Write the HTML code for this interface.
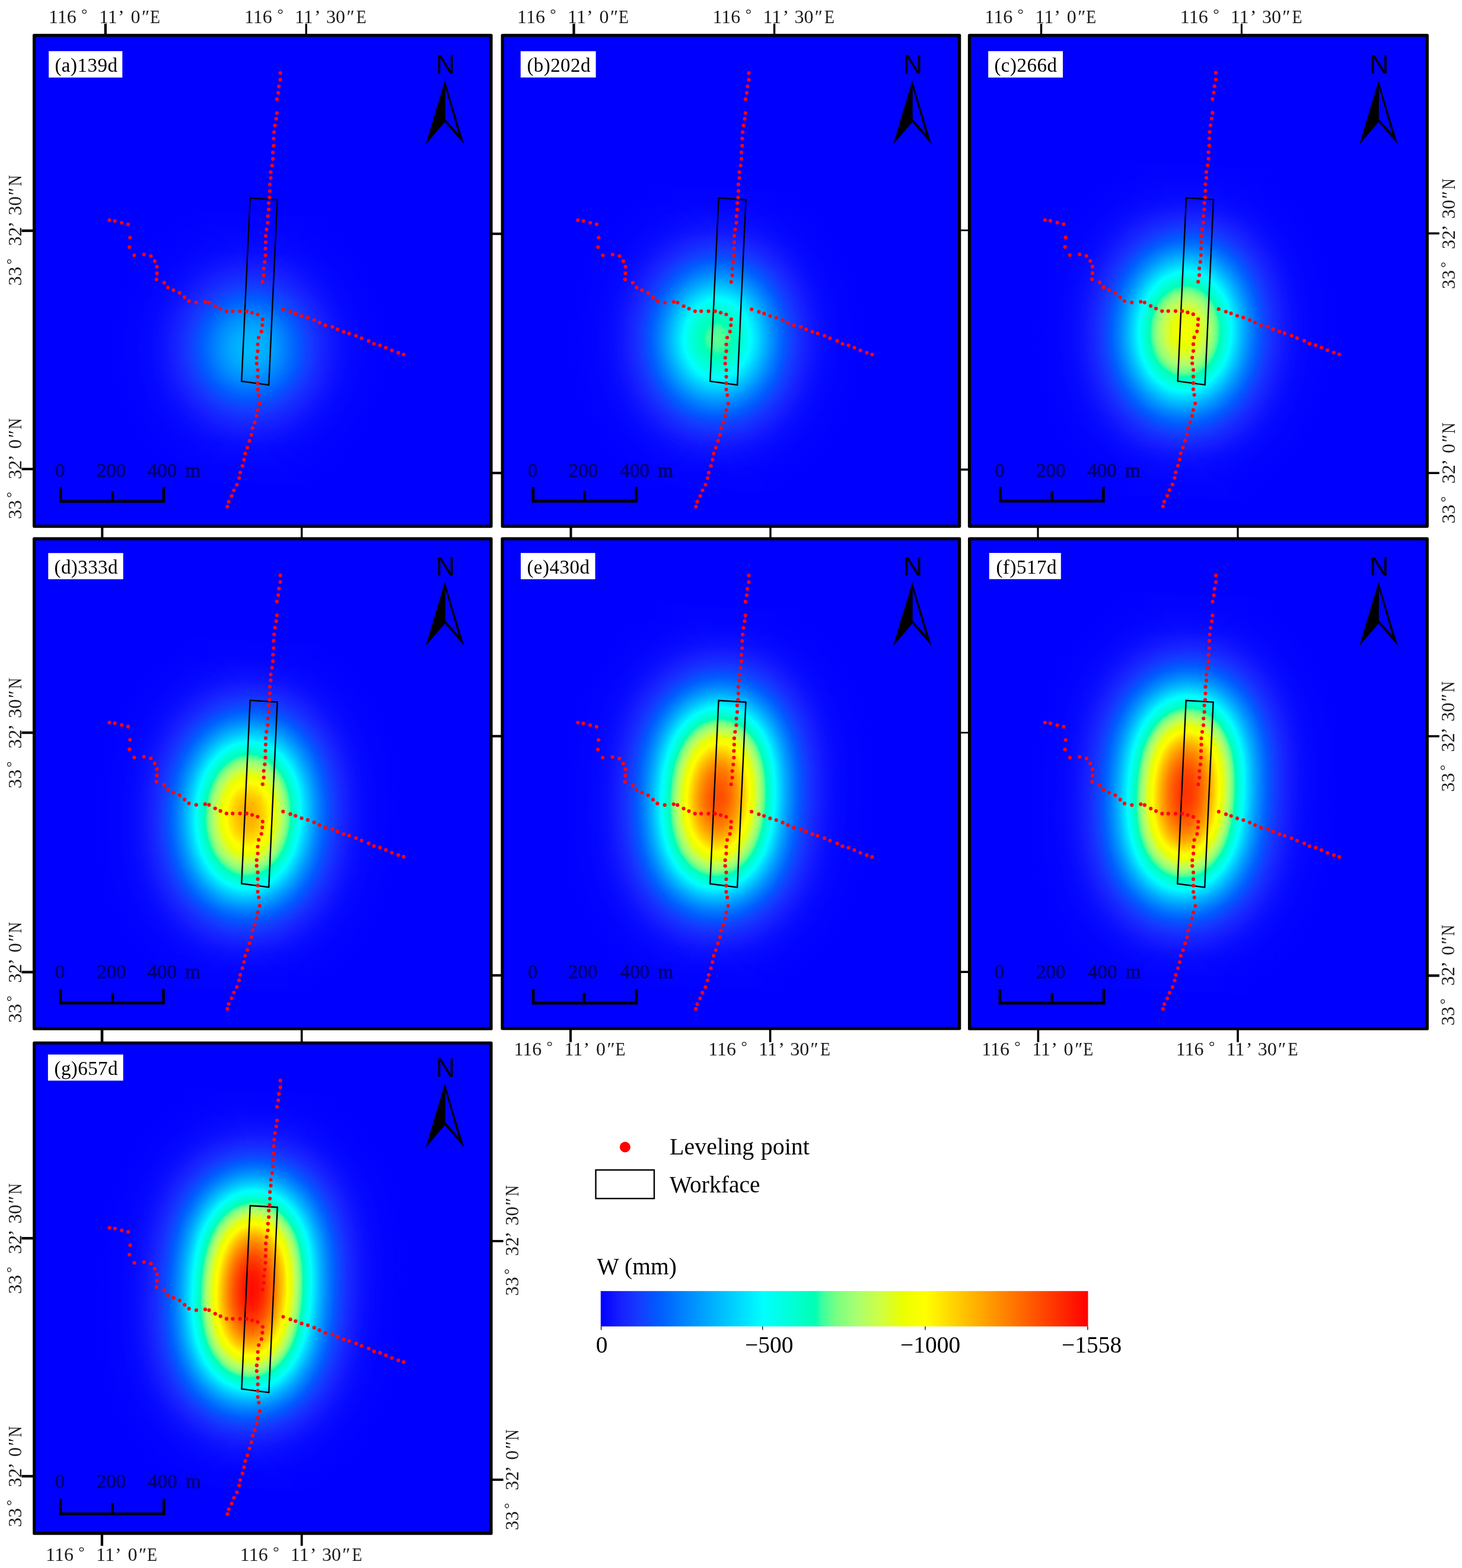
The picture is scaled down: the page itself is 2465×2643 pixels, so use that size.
<!DOCTYPE html>
<html lang="en"><head><meta charset="utf-8"><title>Subsidence maps</title><style>
html,body{margin:0;padding:0;background:#fff}
svg{display:block}
text{font-family:"Liberation Serif",serif;fill:#000}
.lb{font-size:33px}
.nn{font-family:"Liberation Sans",sans-serif;font-size:44.5px;text-anchor:middle}
.sc text{font-size:33px;fill:#00006e;stroke:#00006e;stroke-width:.7px}
.ax{font-size:32px;fill:#1a1a1a}
.lg{font-size:39.5px}
</style></head><body>
<svg width="2465" height="2643" viewBox="0 0 2465 2643">
<defs>
<clipPath id="cpa"><rect x="57.6" y="59.6" width="770.4" height="827.5"/></clipPath>
<linearGradient id="gxa" gradientUnits="userSpaceOnUse" x1="-340" y1="0" x2="340" y2="0"><stop offset="0" stop-opacity="1"/><stop offset="0.0147" stop-opacity="1"/><stop offset="0.0294" stop-opacity="1"/><stop offset="0.0441" stop-opacity="1"/><stop offset="0.0588" stop-opacity="0.9999"/><stop offset="0.0735" stop-opacity="0.9999"/><stop offset="0.0882" stop-opacity="0.9998"/><stop offset="0.1029" stop-opacity="0.9996"/><stop offset="0.1176" stop-opacity="0.9994"/><stop offset="0.1324" stop-opacity="0.9989"/><stop offset="0.1471" stop-opacity="0.9981"/><stop offset="0.1618" stop-opacity="0.9968"/><stop offset="0.1765" stop-opacity="0.9948"/><stop offset="0.1912" stop-opacity="0.9917"/><stop offset="0.2059" stop-opacity="0.9871"/><stop offset="0.2206" stop-opacity="0.9802"/><stop offset="0.2353" stop-opacity="0.9704"/><stop offset="0.25" stop-opacity="0.9567"/><stop offset="0.2647" stop-opacity="0.938"/><stop offset="0.2794" stop-opacity="0.9132"/><stop offset="0.2941" stop-opacity="0.881"/><stop offset="0.3088" stop-opacity="0.8405"/><stop offset="0.3235" stop-opacity="0.7907"/><stop offset="0.3382" stop-opacity="0.7312"/><stop offset="0.3529" stop-opacity="0.6624"/><stop offset="0.3676" stop-opacity="0.585"/><stop offset="0.3824" stop-opacity="0.5008"/><stop offset="0.3971" stop-opacity="0.4125"/><stop offset="0.4118" stop-opacity="0.3235"/><stop offset="0.4265" stop-opacity="0.2377"/><stop offset="0.4412" stop-opacity="0.1594"/><stop offset="0.4559" stop-opacity="0.0931"/><stop offset="0.4706" stop-opacity="0.0425"/><stop offset="0.4853" stop-opacity="0.0108"/><stop offset="0.5" stop-opacity="0"/><stop offset="0.5147" stop-opacity="0.0108"/><stop offset="0.5294" stop-opacity="0.0425"/><stop offset="0.5441" stop-opacity="0.0931"/><stop offset="0.5588" stop-opacity="0.1594"/><stop offset="0.5735" stop-opacity="0.2377"/><stop offset="0.5882" stop-opacity="0.3235"/><stop offset="0.6029" stop-opacity="0.4125"/><stop offset="0.6176" stop-opacity="0.5008"/><stop offset="0.6324" stop-opacity="0.585"/><stop offset="0.6471" stop-opacity="0.6624"/><stop offset="0.6618" stop-opacity="0.7312"/><stop offset="0.6765" stop-opacity="0.7907"/><stop offset="0.6912" stop-opacity="0.8405"/><stop offset="0.7059" stop-opacity="0.881"/><stop offset="0.7206" stop-opacity="0.9132"/><stop offset="0.7353" stop-opacity="0.938"/><stop offset="0.75" stop-opacity="0.9567"/><stop offset="0.7647" stop-opacity="0.9704"/><stop offset="0.7794" stop-opacity="0.9802"/><stop offset="0.7941" stop-opacity="0.9871"/><stop offset="0.8088" stop-opacity="0.9917"/><stop offset="0.8235" stop-opacity="0.9948"/><stop offset="0.8382" stop-opacity="0.9968"/><stop offset="0.8529" stop-opacity="0.9981"/><stop offset="0.8676" stop-opacity="0.9989"/><stop offset="0.8824" stop-opacity="0.9994"/><stop offset="0.8971" stop-opacity="0.9996"/><stop offset="0.9118" stop-opacity="0.9998"/><stop offset="0.9265" stop-opacity="0.9999"/><stop offset="0.9412" stop-opacity="0.9999"/><stop offset="0.9559" stop-opacity="1"/><stop offset="0.9706" stop-opacity="1"/><stop offset="0.9853" stop-opacity="1"/><stop offset="1" stop-opacity="1"/></linearGradient>
<linearGradient id="gya" gradientUnits="userSpaceOnUse" x1="0" y1="-460" x2="0" y2="460"><stop offset="0" stop-color="#000000"/><stop offset="0.0147" stop-color="#000000"/><stop offset="0.0294" stop-color="#000000"/><stop offset="0.0441" stop-color="#000000"/><stop offset="0.0588" stop-color="#000000"/><stop offset="0.0735" stop-color="#000000"/><stop offset="0.0882" stop-color="#000000"/><stop offset="0.1029" stop-color="#000000"/><stop offset="0.1176" stop-color="#000000"/><stop offset="0.1324" stop-color="#000000"/><stop offset="0.1471" stop-color="#000000"/><stop offset="0.1618" stop-color="#000000"/><stop offset="0.1765" stop-color="#000000"/><stop offset="0.1912" stop-color="#000000"/><stop offset="0.2059" stop-color="#000000"/><stop offset="0.2206" stop-color="#000000"/><stop offset="0.2353" stop-color="#000000"/><stop offset="0.25" stop-color="#000000"/><stop offset="0.2647" stop-color="#010101"/><stop offset="0.2794" stop-color="#010101"/><stop offset="0.2941" stop-color="#020202"/><stop offset="0.3088" stop-color="#030303"/><stop offset="0.3235" stop-color="#040404"/><stop offset="0.3382" stop-color="#070707"/><stop offset="0.3529" stop-color="#0a0a0a"/><stop offset="0.3676" stop-color="#0e0e0e"/><stop offset="0.3824" stop-color="#131313"/><stop offset="0.3971" stop-color="#191919"/><stop offset="0.4118" stop-color="#202020"/><stop offset="0.4265" stop-color="#272727"/><stop offset="0.4412" stop-color="#2f2f2f"/><stop offset="0.4559" stop-color="#353535"/><stop offset="0.4706" stop-color="#3a3a3a"/><stop offset="0.4853" stop-color="#3d3d3d"/><stop offset="0.5" stop-color="#3e3e3e"/><stop offset="0.5147" stop-color="#3d3d3d"/><stop offset="0.5294" stop-color="#3a3a3a"/><stop offset="0.5441" stop-color="#353535"/><stop offset="0.5588" stop-color="#2f2f2f"/><stop offset="0.5735" stop-color="#272727"/><stop offset="0.5882" stop-color="#202020"/><stop offset="0.6029" stop-color="#191919"/><stop offset="0.6176" stop-color="#131313"/><stop offset="0.6324" stop-color="#0e0e0e"/><stop offset="0.6471" stop-color="#0a0a0a"/><stop offset="0.6618" stop-color="#070707"/><stop offset="0.6765" stop-color="#040404"/><stop offset="0.6912" stop-color="#030303"/><stop offset="0.7059" stop-color="#020202"/><stop offset="0.7206" stop-color="#010101"/><stop offset="0.7353" stop-color="#010101"/><stop offset="0.75" stop-color="#000000"/><stop offset="0.7647" stop-color="#000000"/><stop offset="0.7794" stop-color="#000000"/><stop offset="0.7941" stop-color="#000000"/><stop offset="0.8088" stop-color="#000000"/><stop offset="0.8235" stop-color="#000000"/><stop offset="0.8382" stop-color="#000000"/><stop offset="0.8529" stop-color="#000000"/><stop offset="0.8676" stop-color="#000000"/><stop offset="0.8824" stop-color="#000000"/><stop offset="0.8971" stop-color="#000000"/><stop offset="0.9118" stop-color="#000000"/><stop offset="0.9265" stop-color="#000000"/><stop offset="0.9412" stop-color="#000000"/><stop offset="0.9559" stop-color="#000000"/><stop offset="0.9706" stop-color="#000000"/><stop offset="0.9853" stop-color="#000000"/><stop offset="1" stop-color="#000000"/></linearGradient>
<filter id="cma" filterUnits="userSpaceOnUse" x="55" y="57" width="775.6" height="832.7" color-interpolation-filters="sRGB"><feComponentTransfer><feFuncR type="table" tableValues="0 0.008 0.017 0.025 0.034 0.042 0.051 0.059 0.068 0.076 0.085 0.086 0.085 0.084 0.083 0.083 0.082 0.081 0.08 0.08 0.079 0.074 0.066 0.058 0.051 0.043 0.035 0.028 0.02 0.012 0.005 0 0 0 0 0 0 0 0 0 0 0 0 0 0 0 0 0 0 0 0 0 0 0 0 0 0 0 0 0 0 0 0 0 0 0 0 0 0 0 0 0 0 0 0 0 0 0 0 0 0 0 0 0 0 0 0 0 0 0 0 0 0 0 0 0 0 0 0 0 0 0 0 0 0 0 0 0 0 0 0 0 0 0.049 0.111 0.172 0.234 0.267 0.3 0.333 0.366 0.399 0.432 0.465 0.485 0.503 0.521 0.539 0.556 0.574 0.592 0.61 0.627 0.645 0.658 0.671 0.683 0.696 0.708 0.721 0.734 0.746 0.759 0.771 0.784 0.796 0.808 0.817 0.826 0.836 0.845 0.855 0.864 0.874 0.883 0.892 0.902 0.911 0.921 0.927 0.934 0.941 0.947 0.954 0.96 0.967 0.974 0.98 0.987 0.993 1 1 1 1 1 1 1 1 1 1 1 1 1 1 1 1 1 1 1 1 1 1 1 1 1 1 1 1 1 1 1 1 1 1 1 1 1 1 1 1 1 1 1 1 1 1 1 1 1 1 1 1 1 1 1 1 1 1 1 1 1 1 1 1 1 1 1 1 1 1 1 1 1 1 1 1 1 1 1 1 1 1 1 1 1 1"/><feFuncG type="table" tableValues="0 0.012 0.024 0.036 0.048 0.06 0.072 0.083 0.095 0.107 0.119 0.131 0.142 0.154 0.165 0.177 0.188 0.2 0.212 0.223 0.235 0.246 0.258 0.27 0.282 0.294 0.306 0.318 0.33 0.342 0.354 0.365 0.377 0.389 0.401 0.412 0.424 0.436 0.448 0.46 0.471 0.483 0.495 0.507 0.518 0.53 0.542 0.554 0.565 0.577 0.589 0.601 0.612 0.624 0.636 0.648 0.659 0.671 0.683 0.695 0.706 0.718 0.73 0.742 0.753 0.765 0.777 0.789 0.8 0.812 0.824 0.836 0.847 0.859 0.871 0.883 0.894 0.906 0.918 0.93 0.941 0.953 0.965 0.977 0.988 1 1 1 1 1 1 1 1 1 1 1 1 1 1 1 1 1 1 1 1 1 1 1 1 1 1 1 1 1 1 1 1 1 1 1 1 1 1 1 1 1 1 1 1 1 1 1 1 1 1 1 1 1 1 1 1 1 1 1 1 1 1 1 1 1 1 1 1 1 1 1 1 1 1 1 1 1 1 1 1 1 1 1 1 1 1 0.988 0.977 0.965 0.953 0.941 0.93 0.918 0.906 0.894 0.882 0.871 0.859 0.847 0.835 0.824 0.812 0.8 0.788 0.777 0.765 0.753 0.741 0.729 0.718 0.706 0.694 0.682 0.671 0.659 0.647 0.635 0.624 0.612 0.6 0.588 0.577 0.565 0.553 0.541 0.529 0.518 0.506 0.494 0.482 0.471 0.459 0.447 0.435 0.424 0.412 0.4 0.388 0.377 0.365 0.353 0.341 0.329 0.318 0.306 0.294 0.282 0.271 0.259 0.247 0.235 0.224 0.212 0.2 0.188 0.176 0.165 0.153 0.141 0.129 0.118 0.106 0.094 0.082 0.071 0.059 0.047 0.035 0.024 0.012 0"/><feFuncB type="table" tableValues="1 1 1 1 1 1 1 1 1 1 1 1 1 1 1 1 1 1 1 1 1 1 1 1 1 1 1 1 1 1 1 1 1 1 1 1 1 1 1 1 1 1 1 1 1 1 1 1 1 1 1 1 1 1 1 1 1 1 1 1 1 1 1 1 1 1 1 1 1 1 1 1 1 1 1 1 1 1 1 1 1 1 1 1 1 1 0.989 0.978 0.967 0.957 0.946 0.935 0.924 0.913 0.903 0.892 0.881 0.87 0.859 0.849 0.838 0.827 0.816 0.805 0.795 0.784 0.773 0.762 0.751 0.74 0.73 0.719 0.708 0.689 0.669 0.648 0.628 0.611 0.595 0.578 0.562 0.545 0.529 0.513 0.505 0.499 0.493 0.487 0.481 0.475 0.469 0.463 0.458 0.452 0.438 0.424 0.41 0.396 0.382 0.368 0.354 0.34 0.325 0.311 0.297 0.283 0.266 0.244 0.222 0.2 0.178 0.156 0.134 0.112 0.09 0.068 0.046 0.024 0.002 0 0 0 0 0 0 0 0 0 0 0 0 0 0 0 0 0 0 0 0 0 0 0 0 0 0 0 0 0 0 0 0 0 0 0 0 0 0 0 0 0 0 0 0 0 0 0 0 0 0 0 0 0 0 0 0 0 0 0 0 0 0 0 0 0 0 0 0 0 0 0 0 0 0 0 0 0 0 0 0 0 0 0 0 0 0 0 0 0 0 0 0 0 0 0 0 0"/></feComponentTransfer></filter>
<clipPath id="cpb"><rect x="847.2" y="59.6" width="770.5" height="827.5"/></clipPath>
<linearGradient id="gxb" gradientUnits="userSpaceOnUse" x1="-340" y1="0" x2="340" y2="0"><stop offset="0" stop-opacity="1"/><stop offset="0.0147" stop-opacity="1"/><stop offset="0.0294" stop-opacity="1"/><stop offset="0.0441" stop-opacity="1"/><stop offset="0.0588" stop-opacity="0.9999"/><stop offset="0.0735" stop-opacity="0.9999"/><stop offset="0.0882" stop-opacity="0.9998"/><stop offset="0.1029" stop-opacity="0.9996"/><stop offset="0.1176" stop-opacity="0.9994"/><stop offset="0.1324" stop-opacity="0.9989"/><stop offset="0.1471" stop-opacity="0.9981"/><stop offset="0.1618" stop-opacity="0.9968"/><stop offset="0.1765" stop-opacity="0.9948"/><stop offset="0.1912" stop-opacity="0.9917"/><stop offset="0.2059" stop-opacity="0.9871"/><stop offset="0.2206" stop-opacity="0.9802"/><stop offset="0.2353" stop-opacity="0.9704"/><stop offset="0.25" stop-opacity="0.9567"/><stop offset="0.2647" stop-opacity="0.938"/><stop offset="0.2794" stop-opacity="0.9132"/><stop offset="0.2941" stop-opacity="0.881"/><stop offset="0.3088" stop-opacity="0.8405"/><stop offset="0.3235" stop-opacity="0.7907"/><stop offset="0.3382" stop-opacity="0.7312"/><stop offset="0.3529" stop-opacity="0.6624"/><stop offset="0.3676" stop-opacity="0.585"/><stop offset="0.3824" stop-opacity="0.5008"/><stop offset="0.3971" stop-opacity="0.4125"/><stop offset="0.4118" stop-opacity="0.3235"/><stop offset="0.4265" stop-opacity="0.2377"/><stop offset="0.4412" stop-opacity="0.1594"/><stop offset="0.4559" stop-opacity="0.0931"/><stop offset="0.4706" stop-opacity="0.0425"/><stop offset="0.4853" stop-opacity="0.0108"/><stop offset="0.5" stop-opacity="0"/><stop offset="0.5147" stop-opacity="0.0108"/><stop offset="0.5294" stop-opacity="0.0425"/><stop offset="0.5441" stop-opacity="0.0931"/><stop offset="0.5588" stop-opacity="0.1594"/><stop offset="0.5735" stop-opacity="0.2377"/><stop offset="0.5882" stop-opacity="0.3235"/><stop offset="0.6029" stop-opacity="0.4125"/><stop offset="0.6176" stop-opacity="0.5008"/><stop offset="0.6324" stop-opacity="0.585"/><stop offset="0.6471" stop-opacity="0.6624"/><stop offset="0.6618" stop-opacity="0.7312"/><stop offset="0.6765" stop-opacity="0.7907"/><stop offset="0.6912" stop-opacity="0.8405"/><stop offset="0.7059" stop-opacity="0.881"/><stop offset="0.7206" stop-opacity="0.9132"/><stop offset="0.7353" stop-opacity="0.938"/><stop offset="0.75" stop-opacity="0.9567"/><stop offset="0.7647" stop-opacity="0.9704"/><stop offset="0.7794" stop-opacity="0.9802"/><stop offset="0.7941" stop-opacity="0.9871"/><stop offset="0.8088" stop-opacity="0.9917"/><stop offset="0.8235" stop-opacity="0.9948"/><stop offset="0.8382" stop-opacity="0.9968"/><stop offset="0.8529" stop-opacity="0.9981"/><stop offset="0.8676" stop-opacity="0.9989"/><stop offset="0.8824" stop-opacity="0.9994"/><stop offset="0.8971" stop-opacity="0.9996"/><stop offset="0.9118" stop-opacity="0.9998"/><stop offset="0.9265" stop-opacity="0.9999"/><stop offset="0.9412" stop-opacity="0.9999"/><stop offset="0.9559" stop-opacity="1"/><stop offset="0.9706" stop-opacity="1"/><stop offset="0.9853" stop-opacity="1"/><stop offset="1" stop-opacity="1"/></linearGradient>
<linearGradient id="gyb" gradientUnits="userSpaceOnUse" x1="0" y1="-460" x2="0" y2="460"><stop offset="0" stop-color="#000000"/><stop offset="0.0147" stop-color="#000000"/><stop offset="0.0294" stop-color="#000000"/><stop offset="0.0441" stop-color="#000000"/><stop offset="0.0588" stop-color="#000000"/><stop offset="0.0735" stop-color="#000000"/><stop offset="0.0882" stop-color="#000000"/><stop offset="0.1029" stop-color="#000000"/><stop offset="0.1176" stop-color="#000000"/><stop offset="0.1324" stop-color="#000000"/><stop offset="0.1471" stop-color="#000000"/><stop offset="0.1618" stop-color="#000000"/><stop offset="0.1765" stop-color="#000000"/><stop offset="0.1912" stop-color="#000000"/><stop offset="0.2059" stop-color="#000000"/><stop offset="0.2206" stop-color="#000000"/><stop offset="0.2353" stop-color="#010101"/><stop offset="0.25" stop-color="#010101"/><stop offset="0.2647" stop-color="#020202"/><stop offset="0.2794" stop-color="#040404"/><stop offset="0.2941" stop-color="#060606"/><stop offset="0.3088" stop-color="#090909"/><stop offset="0.3235" stop-color="#0e0e0e"/><stop offset="0.3382" stop-color="#141414"/><stop offset="0.3529" stop-color="#1b1b1b"/><stop offset="0.3676" stop-color="#252525"/><stop offset="0.3824" stop-color="#2f2f2f"/><stop offset="0.3971" stop-color="#3b3b3b"/><stop offset="0.4118" stop-color="#474747"/><stop offset="0.4265" stop-color="#545454"/><stop offset="0.4412" stop-color="#5f5f5f"/><stop offset="0.4559" stop-color="#696969"/><stop offset="0.4706" stop-color="#717171"/><stop offset="0.4853" stop-color="#767676"/><stop offset="0.5" stop-color="#787878"/><stop offset="0.5147" stop-color="#767676"/><stop offset="0.5294" stop-color="#717171"/><stop offset="0.5441" stop-color="#696969"/><stop offset="0.5588" stop-color="#5f5f5f"/><stop offset="0.5735" stop-color="#545454"/><stop offset="0.5882" stop-color="#474747"/><stop offset="0.6029" stop-color="#3b3b3b"/><stop offset="0.6176" stop-color="#2f2f2f"/><stop offset="0.6324" stop-color="#252525"/><stop offset="0.6471" stop-color="#1b1b1b"/><stop offset="0.6618" stop-color="#141414"/><stop offset="0.6765" stop-color="#0e0e0e"/><stop offset="0.6912" stop-color="#090909"/><stop offset="0.7059" stop-color="#060606"/><stop offset="0.7206" stop-color="#040404"/><stop offset="0.7353" stop-color="#020202"/><stop offset="0.75" stop-color="#010101"/><stop offset="0.7647" stop-color="#010101"/><stop offset="0.7794" stop-color="#000000"/><stop offset="0.7941" stop-color="#000000"/><stop offset="0.8088" stop-color="#000000"/><stop offset="0.8235" stop-color="#000000"/><stop offset="0.8382" stop-color="#000000"/><stop offset="0.8529" stop-color="#000000"/><stop offset="0.8676" stop-color="#000000"/><stop offset="0.8824" stop-color="#000000"/><stop offset="0.8971" stop-color="#000000"/><stop offset="0.9118" stop-color="#000000"/><stop offset="0.9265" stop-color="#000000"/><stop offset="0.9412" stop-color="#000000"/><stop offset="0.9559" stop-color="#000000"/><stop offset="0.9706" stop-color="#000000"/><stop offset="0.9853" stop-color="#000000"/><stop offset="1" stop-color="#000000"/></linearGradient>
<filter id="cmb" filterUnits="userSpaceOnUse" x="844.6" y="57" width="775.7" height="832.7" color-interpolation-filters="sRGB"><feComponentTransfer><feFuncR type="table" tableValues="0 0.008 0.017 0.025 0.034 0.042 0.051 0.059 0.068 0.076 0.085 0.086 0.085 0.084 0.083 0.083 0.082 0.081 0.08 0.08 0.079 0.074 0.066 0.058 0.051 0.043 0.035 0.028 0.02 0.012 0.005 0 0 0 0 0 0 0 0 0 0 0 0 0 0 0 0 0 0 0 0 0 0 0 0 0 0 0 0 0 0 0 0 0 0 0 0 0 0 0 0 0 0 0 0 0 0 0 0 0 0 0 0 0 0 0 0 0 0 0 0 0 0 0 0 0 0 0 0 0 0 0 0 0 0 0 0 0 0 0 0 0 0 0.049 0.111 0.172 0.234 0.267 0.3 0.333 0.366 0.399 0.432 0.465 0.485 0.503 0.521 0.539 0.556 0.574 0.592 0.61 0.627 0.645 0.658 0.671 0.683 0.696 0.708 0.721 0.734 0.746 0.759 0.771 0.784 0.796 0.808 0.817 0.826 0.836 0.845 0.855 0.864 0.874 0.883 0.892 0.902 0.911 0.921 0.927 0.934 0.941 0.947 0.954 0.96 0.967 0.974 0.98 0.987 0.993 1 1 1 1 1 1 1 1 1 1 1 1 1 1 1 1 1 1 1 1 1 1 1 1 1 1 1 1 1 1 1 1 1 1 1 1 1 1 1 1 1 1 1 1 1 1 1 1 1 1 1 1 1 1 1 1 1 1 1 1 1 1 1 1 1 1 1 1 1 1 1 1 1 1 1 1 1 1 1 1 1 1 1 1 1 1"/><feFuncG type="table" tableValues="0 0.012 0.024 0.036 0.048 0.06 0.072 0.083 0.095 0.107 0.119 0.131 0.142 0.154 0.165 0.177 0.188 0.2 0.212 0.223 0.235 0.246 0.258 0.27 0.282 0.294 0.306 0.318 0.33 0.342 0.354 0.365 0.377 0.389 0.401 0.412 0.424 0.436 0.448 0.46 0.471 0.483 0.495 0.507 0.518 0.53 0.542 0.554 0.565 0.577 0.589 0.601 0.612 0.624 0.636 0.648 0.659 0.671 0.683 0.695 0.706 0.718 0.73 0.742 0.753 0.765 0.777 0.789 0.8 0.812 0.824 0.836 0.847 0.859 0.871 0.883 0.894 0.906 0.918 0.93 0.941 0.953 0.965 0.977 0.988 1 1 1 1 1 1 1 1 1 1 1 1 1 1 1 1 1 1 1 1 1 1 1 1 1 1 1 1 1 1 1 1 1 1 1 1 1 1 1 1 1 1 1 1 1 1 1 1 1 1 1 1 1 1 1 1 1 1 1 1 1 1 1 1 1 1 1 1 1 1 1 1 1 1 1 1 1 1 1 1 1 1 1 1 1 1 0.988 0.977 0.965 0.953 0.941 0.93 0.918 0.906 0.894 0.882 0.871 0.859 0.847 0.835 0.824 0.812 0.8 0.788 0.777 0.765 0.753 0.741 0.729 0.718 0.706 0.694 0.682 0.671 0.659 0.647 0.635 0.624 0.612 0.6 0.588 0.577 0.565 0.553 0.541 0.529 0.518 0.506 0.494 0.482 0.471 0.459 0.447 0.435 0.424 0.412 0.4 0.388 0.377 0.365 0.353 0.341 0.329 0.318 0.306 0.294 0.282 0.271 0.259 0.247 0.235 0.224 0.212 0.2 0.188 0.176 0.165 0.153 0.141 0.129 0.118 0.106 0.094 0.082 0.071 0.059 0.047 0.035 0.024 0.012 0"/><feFuncB type="table" tableValues="1 1 1 1 1 1 1 1 1 1 1 1 1 1 1 1 1 1 1 1 1 1 1 1 1 1 1 1 1 1 1 1 1 1 1 1 1 1 1 1 1 1 1 1 1 1 1 1 1 1 1 1 1 1 1 1 1 1 1 1 1 1 1 1 1 1 1 1 1 1 1 1 1 1 1 1 1 1 1 1 1 1 1 1 1 1 0.989 0.978 0.967 0.957 0.946 0.935 0.924 0.913 0.903 0.892 0.881 0.87 0.859 0.849 0.838 0.827 0.816 0.805 0.795 0.784 0.773 0.762 0.751 0.74 0.73 0.719 0.708 0.689 0.669 0.648 0.628 0.611 0.595 0.578 0.562 0.545 0.529 0.513 0.505 0.499 0.493 0.487 0.481 0.475 0.469 0.463 0.458 0.452 0.438 0.424 0.41 0.396 0.382 0.368 0.354 0.34 0.325 0.311 0.297 0.283 0.266 0.244 0.222 0.2 0.178 0.156 0.134 0.112 0.09 0.068 0.046 0.024 0.002 0 0 0 0 0 0 0 0 0 0 0 0 0 0 0 0 0 0 0 0 0 0 0 0 0 0 0 0 0 0 0 0 0 0 0 0 0 0 0 0 0 0 0 0 0 0 0 0 0 0 0 0 0 0 0 0 0 0 0 0 0 0 0 0 0 0 0 0 0 0 0 0 0 0 0 0 0 0 0 0 0 0 0 0 0 0 0 0 0 0 0 0 0 0 0 0 0"/></feComponentTransfer></filter>
<clipPath id="cpc"><rect x="1634.5" y="59.6" width="771.8" height="827.5"/></clipPath>
<linearGradient id="gxc" gradientUnits="userSpaceOnUse" x1="-340" y1="0" x2="340" y2="0"><stop offset="0" stop-opacity="1"/><stop offset="0.0147" stop-opacity="1"/><stop offset="0.0294" stop-opacity="1"/><stop offset="0.0441" stop-opacity="1"/><stop offset="0.0588" stop-opacity="0.9999"/><stop offset="0.0735" stop-opacity="0.9999"/><stop offset="0.0882" stop-opacity="0.9998"/><stop offset="0.1029" stop-opacity="0.9996"/><stop offset="0.1176" stop-opacity="0.9994"/><stop offset="0.1324" stop-opacity="0.9989"/><stop offset="0.1471" stop-opacity="0.9981"/><stop offset="0.1618" stop-opacity="0.9968"/><stop offset="0.1765" stop-opacity="0.9948"/><stop offset="0.1912" stop-opacity="0.9917"/><stop offset="0.2059" stop-opacity="0.9871"/><stop offset="0.2206" stop-opacity="0.9802"/><stop offset="0.2353" stop-opacity="0.9704"/><stop offset="0.25" stop-opacity="0.9567"/><stop offset="0.2647" stop-opacity="0.938"/><stop offset="0.2794" stop-opacity="0.9132"/><stop offset="0.2941" stop-opacity="0.881"/><stop offset="0.3088" stop-opacity="0.8405"/><stop offset="0.3235" stop-opacity="0.7907"/><stop offset="0.3382" stop-opacity="0.7312"/><stop offset="0.3529" stop-opacity="0.6624"/><stop offset="0.3676" stop-opacity="0.585"/><stop offset="0.3824" stop-opacity="0.5008"/><stop offset="0.3971" stop-opacity="0.4125"/><stop offset="0.4118" stop-opacity="0.3235"/><stop offset="0.4265" stop-opacity="0.2377"/><stop offset="0.4412" stop-opacity="0.1594"/><stop offset="0.4559" stop-opacity="0.0931"/><stop offset="0.4706" stop-opacity="0.0425"/><stop offset="0.4853" stop-opacity="0.0108"/><stop offset="0.5" stop-opacity="0"/><stop offset="0.5147" stop-opacity="0.0108"/><stop offset="0.5294" stop-opacity="0.0425"/><stop offset="0.5441" stop-opacity="0.0931"/><stop offset="0.5588" stop-opacity="0.1594"/><stop offset="0.5735" stop-opacity="0.2377"/><stop offset="0.5882" stop-opacity="0.3235"/><stop offset="0.6029" stop-opacity="0.4125"/><stop offset="0.6176" stop-opacity="0.5008"/><stop offset="0.6324" stop-opacity="0.585"/><stop offset="0.6471" stop-opacity="0.6624"/><stop offset="0.6618" stop-opacity="0.7312"/><stop offset="0.6765" stop-opacity="0.7907"/><stop offset="0.6912" stop-opacity="0.8405"/><stop offset="0.7059" stop-opacity="0.881"/><stop offset="0.7206" stop-opacity="0.9132"/><stop offset="0.7353" stop-opacity="0.938"/><stop offset="0.75" stop-opacity="0.9567"/><stop offset="0.7647" stop-opacity="0.9704"/><stop offset="0.7794" stop-opacity="0.9802"/><stop offset="0.7941" stop-opacity="0.9871"/><stop offset="0.8088" stop-opacity="0.9917"/><stop offset="0.8235" stop-opacity="0.9948"/><stop offset="0.8382" stop-opacity="0.9968"/><stop offset="0.8529" stop-opacity="0.9981"/><stop offset="0.8676" stop-opacity="0.9989"/><stop offset="0.8824" stop-opacity="0.9994"/><stop offset="0.8971" stop-opacity="0.9996"/><stop offset="0.9118" stop-opacity="0.9998"/><stop offset="0.9265" stop-opacity="0.9999"/><stop offset="0.9412" stop-opacity="0.9999"/><stop offset="0.9559" stop-opacity="1"/><stop offset="0.9706" stop-opacity="1"/><stop offset="0.9853" stop-opacity="1"/><stop offset="1" stop-opacity="1"/></linearGradient>
<linearGradient id="gyc" gradientUnits="userSpaceOnUse" x1="0" y1="-460" x2="0" y2="460"><stop offset="0" stop-color="#000000"/><stop offset="0.0147" stop-color="#000000"/><stop offset="0.0294" stop-color="#000000"/><stop offset="0.0441" stop-color="#000000"/><stop offset="0.0588" stop-color="#000000"/><stop offset="0.0735" stop-color="#000000"/><stop offset="0.0882" stop-color="#000000"/><stop offset="0.1029" stop-color="#000000"/><stop offset="0.1176" stop-color="#000000"/><stop offset="0.1324" stop-color="#000000"/><stop offset="0.1471" stop-color="#000000"/><stop offset="0.1618" stop-color="#000000"/><stop offset="0.1765" stop-color="#000000"/><stop offset="0.1912" stop-color="#000000"/><stop offset="0.2059" stop-color="#010101"/><stop offset="0.2206" stop-color="#010101"/><stop offset="0.2353" stop-color="#020202"/><stop offset="0.25" stop-color="#030303"/><stop offset="0.2647" stop-color="#050505"/><stop offset="0.2794" stop-color="#080808"/><stop offset="0.2941" stop-color="#0d0d0d"/><stop offset="0.3088" stop-color="#131313"/><stop offset="0.3235" stop-color="#1b1b1b"/><stop offset="0.3382" stop-color="#242424"/><stop offset="0.3529" stop-color="#303030"/><stop offset="0.3676" stop-color="#3e3e3e"/><stop offset="0.3824" stop-color="#4c4c4c"/><stop offset="0.3971" stop-color="#5c5c5c"/><stop offset="0.4118" stop-color="#6c6c6c"/><stop offset="0.4265" stop-color="#7b7b7b"/><stop offset="0.4412" stop-color="#898989"/><stop offset="0.4559" stop-color="#959595"/><stop offset="0.4706" stop-color="#9d9d9d"/><stop offset="0.4853" stop-color="#a3a3a3"/><stop offset="0.5" stop-color="#a4a4a4"/><stop offset="0.5147" stop-color="#a3a3a3"/><stop offset="0.5294" stop-color="#9d9d9d"/><stop offset="0.5441" stop-color="#959595"/><stop offset="0.5588" stop-color="#898989"/><stop offset="0.5735" stop-color="#7b7b7b"/><stop offset="0.5882" stop-color="#6c6c6c"/><stop offset="0.6029" stop-color="#5c5c5c"/><stop offset="0.6176" stop-color="#4c4c4c"/><stop offset="0.6324" stop-color="#3e3e3e"/><stop offset="0.6471" stop-color="#303030"/><stop offset="0.6618" stop-color="#242424"/><stop offset="0.6765" stop-color="#1b1b1b"/><stop offset="0.6912" stop-color="#131313"/><stop offset="0.7059" stop-color="#0d0d0d"/><stop offset="0.7206" stop-color="#080808"/><stop offset="0.7353" stop-color="#050505"/><stop offset="0.75" stop-color="#030303"/><stop offset="0.7647" stop-color="#020202"/><stop offset="0.7794" stop-color="#010101"/><stop offset="0.7941" stop-color="#010101"/><stop offset="0.8088" stop-color="#000000"/><stop offset="0.8235" stop-color="#000000"/><stop offset="0.8382" stop-color="#000000"/><stop offset="0.8529" stop-color="#000000"/><stop offset="0.8676" stop-color="#000000"/><stop offset="0.8824" stop-color="#000000"/><stop offset="0.8971" stop-color="#000000"/><stop offset="0.9118" stop-color="#000000"/><stop offset="0.9265" stop-color="#000000"/><stop offset="0.9412" stop-color="#000000"/><stop offset="0.9559" stop-color="#000000"/><stop offset="0.9706" stop-color="#000000"/><stop offset="0.9853" stop-color="#000000"/><stop offset="1" stop-color="#000000"/></linearGradient>
<filter id="cmc" filterUnits="userSpaceOnUse" x="1631.9" y="57" width="777" height="832.7" color-interpolation-filters="sRGB"><feComponentTransfer><feFuncR type="table" tableValues="0 0.008 0.017 0.025 0.034 0.042 0.051 0.059 0.068 0.076 0.085 0.086 0.085 0.084 0.083 0.083 0.082 0.081 0.08 0.08 0.079 0.074 0.066 0.058 0.051 0.043 0.035 0.028 0.02 0.012 0.005 0 0 0 0 0 0 0 0 0 0 0 0 0 0 0 0 0 0 0 0 0 0 0 0 0 0 0 0 0 0 0 0 0 0 0 0 0 0 0 0 0 0 0 0 0 0 0 0 0 0 0 0 0 0 0 0 0 0 0 0 0 0 0 0 0 0 0 0 0 0 0 0 0 0 0 0 0 0 0 0 0 0 0.049 0.111 0.172 0.234 0.267 0.3 0.333 0.366 0.399 0.432 0.465 0.485 0.503 0.521 0.539 0.556 0.574 0.592 0.61 0.627 0.645 0.658 0.671 0.683 0.696 0.708 0.721 0.734 0.746 0.759 0.771 0.784 0.796 0.808 0.817 0.826 0.836 0.845 0.855 0.864 0.874 0.883 0.892 0.902 0.911 0.921 0.927 0.934 0.941 0.947 0.954 0.96 0.967 0.974 0.98 0.987 0.993 1 1 1 1 1 1 1 1 1 1 1 1 1 1 1 1 1 1 1 1 1 1 1 1 1 1 1 1 1 1 1 1 1 1 1 1 1 1 1 1 1 1 1 1 1 1 1 1 1 1 1 1 1 1 1 1 1 1 1 1 1 1 1 1 1 1 1 1 1 1 1 1 1 1 1 1 1 1 1 1 1 1 1 1 1 1"/><feFuncG type="table" tableValues="0 0.012 0.024 0.036 0.048 0.06 0.072 0.083 0.095 0.107 0.119 0.131 0.142 0.154 0.165 0.177 0.188 0.2 0.212 0.223 0.235 0.246 0.258 0.27 0.282 0.294 0.306 0.318 0.33 0.342 0.354 0.365 0.377 0.389 0.401 0.412 0.424 0.436 0.448 0.46 0.471 0.483 0.495 0.507 0.518 0.53 0.542 0.554 0.565 0.577 0.589 0.601 0.612 0.624 0.636 0.648 0.659 0.671 0.683 0.695 0.706 0.718 0.73 0.742 0.753 0.765 0.777 0.789 0.8 0.812 0.824 0.836 0.847 0.859 0.871 0.883 0.894 0.906 0.918 0.93 0.941 0.953 0.965 0.977 0.988 1 1 1 1 1 1 1 1 1 1 1 1 1 1 1 1 1 1 1 1 1 1 1 1 1 1 1 1 1 1 1 1 1 1 1 1 1 1 1 1 1 1 1 1 1 1 1 1 1 1 1 1 1 1 1 1 1 1 1 1 1 1 1 1 1 1 1 1 1 1 1 1 1 1 1 1 1 1 1 1 1 1 1 1 1 1 0.988 0.977 0.965 0.953 0.941 0.93 0.918 0.906 0.894 0.882 0.871 0.859 0.847 0.835 0.824 0.812 0.8 0.788 0.777 0.765 0.753 0.741 0.729 0.718 0.706 0.694 0.682 0.671 0.659 0.647 0.635 0.624 0.612 0.6 0.588 0.577 0.565 0.553 0.541 0.529 0.518 0.506 0.494 0.482 0.471 0.459 0.447 0.435 0.424 0.412 0.4 0.388 0.377 0.365 0.353 0.341 0.329 0.318 0.306 0.294 0.282 0.271 0.259 0.247 0.235 0.224 0.212 0.2 0.188 0.176 0.165 0.153 0.141 0.129 0.118 0.106 0.094 0.082 0.071 0.059 0.047 0.035 0.024 0.012 0"/><feFuncB type="table" tableValues="1 1 1 1 1 1 1 1 1 1 1 1 1 1 1 1 1 1 1 1 1 1 1 1 1 1 1 1 1 1 1 1 1 1 1 1 1 1 1 1 1 1 1 1 1 1 1 1 1 1 1 1 1 1 1 1 1 1 1 1 1 1 1 1 1 1 1 1 1 1 1 1 1 1 1 1 1 1 1 1 1 1 1 1 1 1 0.989 0.978 0.967 0.957 0.946 0.935 0.924 0.913 0.903 0.892 0.881 0.87 0.859 0.849 0.838 0.827 0.816 0.805 0.795 0.784 0.773 0.762 0.751 0.74 0.73 0.719 0.708 0.689 0.669 0.648 0.628 0.611 0.595 0.578 0.562 0.545 0.529 0.513 0.505 0.499 0.493 0.487 0.481 0.475 0.469 0.463 0.458 0.452 0.438 0.424 0.41 0.396 0.382 0.368 0.354 0.34 0.325 0.311 0.297 0.283 0.266 0.244 0.222 0.2 0.178 0.156 0.134 0.112 0.09 0.068 0.046 0.024 0.002 0 0 0 0 0 0 0 0 0 0 0 0 0 0 0 0 0 0 0 0 0 0 0 0 0 0 0 0 0 0 0 0 0 0 0 0 0 0 0 0 0 0 0 0 0 0 0 0 0 0 0 0 0 0 0 0 0 0 0 0 0 0 0 0 0 0 0 0 0 0 0 0 0 0 0 0 0 0 0 0 0 0 0 0 0 0 0 0 0 0 0 0 0 0 0 0 0"/></feComponentTransfer></filter>
<clipPath id="cpd"><rect x="57.6" y="908.2" width="770.4" height="825.7"/></clipPath>
<linearGradient id="gxd" gradientUnits="userSpaceOnUse" x1="-340" y1="0" x2="340" y2="0"><stop offset="0" stop-opacity="1"/><stop offset="0.0147" stop-opacity="1"/><stop offset="0.0294" stop-opacity="1"/><stop offset="0.0441" stop-opacity="1"/><stop offset="0.0588" stop-opacity="0.9999"/><stop offset="0.0735" stop-opacity="0.9999"/><stop offset="0.0882" stop-opacity="0.9998"/><stop offset="0.1029" stop-opacity="0.9996"/><stop offset="0.1176" stop-opacity="0.9994"/><stop offset="0.1324" stop-opacity="0.9989"/><stop offset="0.1471" stop-opacity="0.9981"/><stop offset="0.1618" stop-opacity="0.9968"/><stop offset="0.1765" stop-opacity="0.9948"/><stop offset="0.1912" stop-opacity="0.9917"/><stop offset="0.2059" stop-opacity="0.9871"/><stop offset="0.2206" stop-opacity="0.9802"/><stop offset="0.2353" stop-opacity="0.9704"/><stop offset="0.25" stop-opacity="0.9567"/><stop offset="0.2647" stop-opacity="0.938"/><stop offset="0.2794" stop-opacity="0.9132"/><stop offset="0.2941" stop-opacity="0.881"/><stop offset="0.3088" stop-opacity="0.8405"/><stop offset="0.3235" stop-opacity="0.7907"/><stop offset="0.3382" stop-opacity="0.7312"/><stop offset="0.3529" stop-opacity="0.6624"/><stop offset="0.3676" stop-opacity="0.585"/><stop offset="0.3824" stop-opacity="0.5008"/><stop offset="0.3971" stop-opacity="0.4125"/><stop offset="0.4118" stop-opacity="0.3235"/><stop offset="0.4265" stop-opacity="0.2377"/><stop offset="0.4412" stop-opacity="0.1594"/><stop offset="0.4559" stop-opacity="0.0931"/><stop offset="0.4706" stop-opacity="0.0425"/><stop offset="0.4853" stop-opacity="0.0108"/><stop offset="0.5" stop-opacity="0"/><stop offset="0.5147" stop-opacity="0.0108"/><stop offset="0.5294" stop-opacity="0.0425"/><stop offset="0.5441" stop-opacity="0.0931"/><stop offset="0.5588" stop-opacity="0.1594"/><stop offset="0.5735" stop-opacity="0.2377"/><stop offset="0.5882" stop-opacity="0.3235"/><stop offset="0.6029" stop-opacity="0.4125"/><stop offset="0.6176" stop-opacity="0.5008"/><stop offset="0.6324" stop-opacity="0.585"/><stop offset="0.6471" stop-opacity="0.6624"/><stop offset="0.6618" stop-opacity="0.7312"/><stop offset="0.6765" stop-opacity="0.7907"/><stop offset="0.6912" stop-opacity="0.8405"/><stop offset="0.7059" stop-opacity="0.881"/><stop offset="0.7206" stop-opacity="0.9132"/><stop offset="0.7353" stop-opacity="0.938"/><stop offset="0.75" stop-opacity="0.9567"/><stop offset="0.7647" stop-opacity="0.9704"/><stop offset="0.7794" stop-opacity="0.9802"/><stop offset="0.7941" stop-opacity="0.9871"/><stop offset="0.8088" stop-opacity="0.9917"/><stop offset="0.8235" stop-opacity="0.9948"/><stop offset="0.8382" stop-opacity="0.9968"/><stop offset="0.8529" stop-opacity="0.9981"/><stop offset="0.8676" stop-opacity="0.9989"/><stop offset="0.8824" stop-opacity="0.9994"/><stop offset="0.8971" stop-opacity="0.9996"/><stop offset="0.9118" stop-opacity="0.9998"/><stop offset="0.9265" stop-opacity="0.9999"/><stop offset="0.9412" stop-opacity="0.9999"/><stop offset="0.9559" stop-opacity="1"/><stop offset="0.9706" stop-opacity="1"/><stop offset="0.9853" stop-opacity="1"/><stop offset="1" stop-opacity="1"/></linearGradient>
<linearGradient id="gyd" gradientUnits="userSpaceOnUse" x1="0" y1="-460" x2="0" y2="460"><stop offset="0" stop-color="#000000"/><stop offset="0.0147" stop-color="#000000"/><stop offset="0.0294" stop-color="#000000"/><stop offset="0.0441" stop-color="#000000"/><stop offset="0.0588" stop-color="#000000"/><stop offset="0.0735" stop-color="#000000"/><stop offset="0.0882" stop-color="#000000"/><stop offset="0.1029" stop-color="#000000"/><stop offset="0.1176" stop-color="#000000"/><stop offset="0.1324" stop-color="#000000"/><stop offset="0.1471" stop-color="#000000"/><stop offset="0.1618" stop-color="#000000"/><stop offset="0.1765" stop-color="#000000"/><stop offset="0.1912" stop-color="#010101"/><stop offset="0.2059" stop-color="#010101"/><stop offset="0.2206" stop-color="#020202"/><stop offset="0.2353" stop-color="#040404"/><stop offset="0.25" stop-color="#060606"/><stop offset="0.2647" stop-color="#0a0a0a"/><stop offset="0.2794" stop-color="#0f0f0f"/><stop offset="0.2941" stop-color="#161616"/><stop offset="0.3088" stop-color="#1e1e1e"/><stop offset="0.3235" stop-color="#292929"/><stop offset="0.3382" stop-color="#373737"/><stop offset="0.3529" stop-color="#464646"/><stop offset="0.3676" stop-color="#575757"/><stop offset="0.3824" stop-color="#696969"/><stop offset="0.3971" stop-color="#7b7b7b"/><stop offset="0.4118" stop-color="#8c8c8c"/><stop offset="0.4265" stop-color="#9d9d9d"/><stop offset="0.4412" stop-color="#ababab"/><stop offset="0.4559" stop-color="#b6b6b6"/><stop offset="0.4706" stop-color="#bfbfbf"/><stop offset="0.4853" stop-color="#c4c4c4"/><stop offset="0.5" stop-color="#c6c6c6"/><stop offset="0.5147" stop-color="#c4c4c4"/><stop offset="0.5294" stop-color="#bfbfbf"/><stop offset="0.5441" stop-color="#b6b6b6"/><stop offset="0.5588" stop-color="#ababab"/><stop offset="0.5735" stop-color="#9d9d9d"/><stop offset="0.5882" stop-color="#8c8c8c"/><stop offset="0.6029" stop-color="#7b7b7b"/><stop offset="0.6176" stop-color="#696969"/><stop offset="0.6324" stop-color="#575757"/><stop offset="0.6471" stop-color="#464646"/><stop offset="0.6618" stop-color="#373737"/><stop offset="0.6765" stop-color="#292929"/><stop offset="0.6912" stop-color="#1e1e1e"/><stop offset="0.7059" stop-color="#161616"/><stop offset="0.7206" stop-color="#0f0f0f"/><stop offset="0.7353" stop-color="#0a0a0a"/><stop offset="0.75" stop-color="#060606"/><stop offset="0.7647" stop-color="#040404"/><stop offset="0.7794" stop-color="#020202"/><stop offset="0.7941" stop-color="#010101"/><stop offset="0.8088" stop-color="#010101"/><stop offset="0.8235" stop-color="#000000"/><stop offset="0.8382" stop-color="#000000"/><stop offset="0.8529" stop-color="#000000"/><stop offset="0.8676" stop-color="#000000"/><stop offset="0.8824" stop-color="#000000"/><stop offset="0.8971" stop-color="#000000"/><stop offset="0.9118" stop-color="#000000"/><stop offset="0.9265" stop-color="#000000"/><stop offset="0.9412" stop-color="#000000"/><stop offset="0.9559" stop-color="#000000"/><stop offset="0.9706" stop-color="#000000"/><stop offset="0.9853" stop-color="#000000"/><stop offset="1" stop-color="#000000"/></linearGradient>
<filter id="cmd" filterUnits="userSpaceOnUse" x="55" y="905.6" width="775.6" height="830.9" color-interpolation-filters="sRGB"><feComponentTransfer><feFuncR type="table" tableValues="0 0.008 0.017 0.025 0.034 0.042 0.051 0.059 0.068 0.076 0.085 0.086 0.085 0.084 0.083 0.083 0.082 0.081 0.08 0.08 0.079 0.074 0.066 0.058 0.051 0.043 0.035 0.028 0.02 0.012 0.005 0 0 0 0 0 0 0 0 0 0 0 0 0 0 0 0 0 0 0 0 0 0 0 0 0 0 0 0 0 0 0 0 0 0 0 0 0 0 0 0 0 0 0 0 0 0 0 0 0 0 0 0 0 0 0 0 0 0 0 0 0 0 0 0 0 0 0 0 0 0 0 0 0 0 0 0 0 0 0 0 0 0 0.049 0.111 0.172 0.234 0.267 0.3 0.333 0.366 0.399 0.432 0.465 0.485 0.503 0.521 0.539 0.556 0.574 0.592 0.61 0.627 0.645 0.658 0.671 0.683 0.696 0.708 0.721 0.734 0.746 0.759 0.771 0.784 0.796 0.808 0.817 0.826 0.836 0.845 0.855 0.864 0.874 0.883 0.892 0.902 0.911 0.921 0.927 0.934 0.941 0.947 0.954 0.96 0.967 0.974 0.98 0.987 0.993 1 1 1 1 1 1 1 1 1 1 1 1 1 1 1 1 1 1 1 1 1 1 1 1 1 1 1 1 1 1 1 1 1 1 1 1 1 1 1 1 1 1 1 1 1 1 1 1 1 1 1 1 1 1 1 1 1 1 1 1 1 1 1 1 1 1 1 1 1 1 1 1 1 1 1 1 1 1 1 1 1 1 1 1 1 1"/><feFuncG type="table" tableValues="0 0.012 0.024 0.036 0.048 0.06 0.072 0.083 0.095 0.107 0.119 0.131 0.142 0.154 0.165 0.177 0.188 0.2 0.212 0.223 0.235 0.246 0.258 0.27 0.282 0.294 0.306 0.318 0.33 0.342 0.354 0.365 0.377 0.389 0.401 0.412 0.424 0.436 0.448 0.46 0.471 0.483 0.495 0.507 0.518 0.53 0.542 0.554 0.565 0.577 0.589 0.601 0.612 0.624 0.636 0.648 0.659 0.671 0.683 0.695 0.706 0.718 0.73 0.742 0.753 0.765 0.777 0.789 0.8 0.812 0.824 0.836 0.847 0.859 0.871 0.883 0.894 0.906 0.918 0.93 0.941 0.953 0.965 0.977 0.988 1 1 1 1 1 1 1 1 1 1 1 1 1 1 1 1 1 1 1 1 1 1 1 1 1 1 1 1 1 1 1 1 1 1 1 1 1 1 1 1 1 1 1 1 1 1 1 1 1 1 1 1 1 1 1 1 1 1 1 1 1 1 1 1 1 1 1 1 1 1 1 1 1 1 1 1 1 1 1 1 1 1 1 1 1 1 0.988 0.977 0.965 0.953 0.941 0.93 0.918 0.906 0.894 0.882 0.871 0.859 0.847 0.835 0.824 0.812 0.8 0.788 0.777 0.765 0.753 0.741 0.729 0.718 0.706 0.694 0.682 0.671 0.659 0.647 0.635 0.624 0.612 0.6 0.588 0.577 0.565 0.553 0.541 0.529 0.518 0.506 0.494 0.482 0.471 0.459 0.447 0.435 0.424 0.412 0.4 0.388 0.377 0.365 0.353 0.341 0.329 0.318 0.306 0.294 0.282 0.271 0.259 0.247 0.235 0.224 0.212 0.2 0.188 0.176 0.165 0.153 0.141 0.129 0.118 0.106 0.094 0.082 0.071 0.059 0.047 0.035 0.024 0.012 0"/><feFuncB type="table" tableValues="1 1 1 1 1 1 1 1 1 1 1 1 1 1 1 1 1 1 1 1 1 1 1 1 1 1 1 1 1 1 1 1 1 1 1 1 1 1 1 1 1 1 1 1 1 1 1 1 1 1 1 1 1 1 1 1 1 1 1 1 1 1 1 1 1 1 1 1 1 1 1 1 1 1 1 1 1 1 1 1 1 1 1 1 1 1 0.989 0.978 0.967 0.957 0.946 0.935 0.924 0.913 0.903 0.892 0.881 0.87 0.859 0.849 0.838 0.827 0.816 0.805 0.795 0.784 0.773 0.762 0.751 0.74 0.73 0.719 0.708 0.689 0.669 0.648 0.628 0.611 0.595 0.578 0.562 0.545 0.529 0.513 0.505 0.499 0.493 0.487 0.481 0.475 0.469 0.463 0.458 0.452 0.438 0.424 0.41 0.396 0.382 0.368 0.354 0.34 0.325 0.311 0.297 0.283 0.266 0.244 0.222 0.2 0.178 0.156 0.134 0.112 0.09 0.068 0.046 0.024 0.002 0 0 0 0 0 0 0 0 0 0 0 0 0 0 0 0 0 0 0 0 0 0 0 0 0 0 0 0 0 0 0 0 0 0 0 0 0 0 0 0 0 0 0 0 0 0 0 0 0 0 0 0 0 0 0 0 0 0 0 0 0 0 0 0 0 0 0 0 0 0 0 0 0 0 0 0 0 0 0 0 0 0 0 0 0 0 0 0 0 0 0 0 0 0 0 0 0"/></feComponentTransfer></filter>
<clipPath id="cpe"><rect x="847" y="908.2" width="770.7" height="825.4"/></clipPath>
<linearGradient id="gxe" gradientUnits="userSpaceOnUse" x1="-340" y1="0" x2="340" y2="0"><stop offset="0" stop-opacity="1"/><stop offset="0.0147" stop-opacity="1"/><stop offset="0.0294" stop-opacity="1"/><stop offset="0.0441" stop-opacity="1"/><stop offset="0.0588" stop-opacity="0.9999"/><stop offset="0.0735" stop-opacity="0.9999"/><stop offset="0.0882" stop-opacity="0.9998"/><stop offset="0.1029" stop-opacity="0.9996"/><stop offset="0.1176" stop-opacity="0.9994"/><stop offset="0.1324" stop-opacity="0.9989"/><stop offset="0.1471" stop-opacity="0.9981"/><stop offset="0.1618" stop-opacity="0.9968"/><stop offset="0.1765" stop-opacity="0.9948"/><stop offset="0.1912" stop-opacity="0.9917"/><stop offset="0.2059" stop-opacity="0.9871"/><stop offset="0.2206" stop-opacity="0.9802"/><stop offset="0.2353" stop-opacity="0.9704"/><stop offset="0.25" stop-opacity="0.9567"/><stop offset="0.2647" stop-opacity="0.938"/><stop offset="0.2794" stop-opacity="0.9132"/><stop offset="0.2941" stop-opacity="0.881"/><stop offset="0.3088" stop-opacity="0.8405"/><stop offset="0.3235" stop-opacity="0.7907"/><stop offset="0.3382" stop-opacity="0.7312"/><stop offset="0.3529" stop-opacity="0.6624"/><stop offset="0.3676" stop-opacity="0.585"/><stop offset="0.3824" stop-opacity="0.5008"/><stop offset="0.3971" stop-opacity="0.4125"/><stop offset="0.4118" stop-opacity="0.3235"/><stop offset="0.4265" stop-opacity="0.2377"/><stop offset="0.4412" stop-opacity="0.1594"/><stop offset="0.4559" stop-opacity="0.0931"/><stop offset="0.4706" stop-opacity="0.0425"/><stop offset="0.4853" stop-opacity="0.0108"/><stop offset="0.5" stop-opacity="0"/><stop offset="0.5147" stop-opacity="0.0108"/><stop offset="0.5294" stop-opacity="0.0425"/><stop offset="0.5441" stop-opacity="0.0931"/><stop offset="0.5588" stop-opacity="0.1594"/><stop offset="0.5735" stop-opacity="0.2377"/><stop offset="0.5882" stop-opacity="0.3235"/><stop offset="0.6029" stop-opacity="0.4125"/><stop offset="0.6176" stop-opacity="0.5008"/><stop offset="0.6324" stop-opacity="0.585"/><stop offset="0.6471" stop-opacity="0.6624"/><stop offset="0.6618" stop-opacity="0.7312"/><stop offset="0.6765" stop-opacity="0.7907"/><stop offset="0.6912" stop-opacity="0.8405"/><stop offset="0.7059" stop-opacity="0.881"/><stop offset="0.7206" stop-opacity="0.9132"/><stop offset="0.7353" stop-opacity="0.938"/><stop offset="0.75" stop-opacity="0.9567"/><stop offset="0.7647" stop-opacity="0.9704"/><stop offset="0.7794" stop-opacity="0.9802"/><stop offset="0.7941" stop-opacity="0.9871"/><stop offset="0.8088" stop-opacity="0.9917"/><stop offset="0.8235" stop-opacity="0.9948"/><stop offset="0.8382" stop-opacity="0.9968"/><stop offset="0.8529" stop-opacity="0.9981"/><stop offset="0.8676" stop-opacity="0.9989"/><stop offset="0.8824" stop-opacity="0.9994"/><stop offset="0.8971" stop-opacity="0.9996"/><stop offset="0.9118" stop-opacity="0.9998"/><stop offset="0.9265" stop-opacity="0.9999"/><stop offset="0.9412" stop-opacity="0.9999"/><stop offset="0.9559" stop-opacity="1"/><stop offset="0.9706" stop-opacity="1"/><stop offset="0.9853" stop-opacity="1"/><stop offset="1" stop-opacity="1"/></linearGradient>
<linearGradient id="gye" gradientUnits="userSpaceOnUse" x1="0" y1="-460" x2="0" y2="460"><stop offset="0" stop-color="#000000"/><stop offset="0.0147" stop-color="#000000"/><stop offset="0.0294" stop-color="#000000"/><stop offset="0.0441" stop-color="#000000"/><stop offset="0.0588" stop-color="#000000"/><stop offset="0.0735" stop-color="#000000"/><stop offset="0.0882" stop-color="#000000"/><stop offset="0.1029" stop-color="#000000"/><stop offset="0.1176" stop-color="#000000"/><stop offset="0.1324" stop-color="#000000"/><stop offset="0.1471" stop-color="#000000"/><stop offset="0.1618" stop-color="#010101"/><stop offset="0.1765" stop-color="#010101"/><stop offset="0.1912" stop-color="#020202"/><stop offset="0.2059" stop-color="#040404"/><stop offset="0.2206" stop-color="#060606"/><stop offset="0.2353" stop-color="#0a0a0a"/><stop offset="0.25" stop-color="#0f0f0f"/><stop offset="0.2647" stop-color="#161616"/><stop offset="0.2794" stop-color="#1f1f1f"/><stop offset="0.2941" stop-color="#2a2a2a"/><stop offset="0.3088" stop-color="#383838"/><stop offset="0.3235" stop-color="#484848"/><stop offset="0.3382" stop-color="#5a5a5a"/><stop offset="0.3529" stop-color="#6d6d6d"/><stop offset="0.3676" stop-color="#818181"/><stop offset="0.3824" stop-color="#949494"/><stop offset="0.3971" stop-color="#a7a7a7"/><stop offset="0.4118" stop-color="#b7b7b7"/><stop offset="0.4265" stop-color="#c5c5c5"/><stop offset="0.4412" stop-color="#d1d1d1"/><stop offset="0.4559" stop-color="#dadada"/><stop offset="0.4706" stop-color="#e0e0e0"/><stop offset="0.4853" stop-color="#e4e4e4"/><stop offset="0.5" stop-color="#e6e6e6"/><stop offset="0.5147" stop-color="#e4e4e4"/><stop offset="0.5294" stop-color="#e0e0e0"/><stop offset="0.5441" stop-color="#dadada"/><stop offset="0.5588" stop-color="#d1d1d1"/><stop offset="0.5735" stop-color="#c5c5c5"/><stop offset="0.5882" stop-color="#b7b7b7"/><stop offset="0.6029" stop-color="#a7a7a7"/><stop offset="0.6176" stop-color="#949494"/><stop offset="0.6324" stop-color="#818181"/><stop offset="0.6471" stop-color="#6d6d6d"/><stop offset="0.6618" stop-color="#5a5a5a"/><stop offset="0.6765" stop-color="#484848"/><stop offset="0.6912" stop-color="#383838"/><stop offset="0.7059" stop-color="#2a2a2a"/><stop offset="0.7206" stop-color="#1f1f1f"/><stop offset="0.7353" stop-color="#161616"/><stop offset="0.75" stop-color="#0f0f0f"/><stop offset="0.7647" stop-color="#0a0a0a"/><stop offset="0.7794" stop-color="#060606"/><stop offset="0.7941" stop-color="#040404"/><stop offset="0.8088" stop-color="#020202"/><stop offset="0.8235" stop-color="#010101"/><stop offset="0.8382" stop-color="#010101"/><stop offset="0.8529" stop-color="#000000"/><stop offset="0.8676" stop-color="#000000"/><stop offset="0.8824" stop-color="#000000"/><stop offset="0.8971" stop-color="#000000"/><stop offset="0.9118" stop-color="#000000"/><stop offset="0.9265" stop-color="#000000"/><stop offset="0.9412" stop-color="#000000"/><stop offset="0.9559" stop-color="#000000"/><stop offset="0.9706" stop-color="#000000"/><stop offset="0.9853" stop-color="#000000"/><stop offset="1" stop-color="#000000"/></linearGradient>
<filter id="cme" filterUnits="userSpaceOnUse" x="844.4" y="905.6" width="775.9" height="830.6" color-interpolation-filters="sRGB"><feComponentTransfer><feFuncR type="table" tableValues="0 0.008 0.017 0.025 0.034 0.042 0.051 0.059 0.068 0.076 0.085 0.086 0.085 0.084 0.083 0.083 0.082 0.081 0.08 0.08 0.079 0.074 0.066 0.058 0.051 0.043 0.035 0.028 0.02 0.012 0.005 0 0 0 0 0 0 0 0 0 0 0 0 0 0 0 0 0 0 0 0 0 0 0 0 0 0 0 0 0 0 0 0 0 0 0 0 0 0 0 0 0 0 0 0 0 0 0 0 0 0 0 0 0 0 0 0 0 0 0 0 0 0 0 0 0 0 0 0 0 0 0 0 0 0 0 0 0 0 0 0 0 0 0.049 0.111 0.172 0.234 0.267 0.3 0.333 0.366 0.399 0.432 0.465 0.485 0.503 0.521 0.539 0.556 0.574 0.592 0.61 0.627 0.645 0.658 0.671 0.683 0.696 0.708 0.721 0.734 0.746 0.759 0.771 0.784 0.796 0.808 0.817 0.826 0.836 0.845 0.855 0.864 0.874 0.883 0.892 0.902 0.911 0.921 0.927 0.934 0.941 0.947 0.954 0.96 0.967 0.974 0.98 0.987 0.993 1 1 1 1 1 1 1 1 1 1 1 1 1 1 1 1 1 1 1 1 1 1 1 1 1 1 1 1 1 1 1 1 1 1 1 1 1 1 1 1 1 1 1 1 1 1 1 1 1 1 1 1 1 1 1 1 1 1 1 1 1 1 1 1 1 1 1 1 1 1 1 1 1 1 1 1 1 1 1 1 1 1 1 1 1 1"/><feFuncG type="table" tableValues="0 0.012 0.024 0.036 0.048 0.06 0.072 0.083 0.095 0.107 0.119 0.131 0.142 0.154 0.165 0.177 0.188 0.2 0.212 0.223 0.235 0.246 0.258 0.27 0.282 0.294 0.306 0.318 0.33 0.342 0.354 0.365 0.377 0.389 0.401 0.412 0.424 0.436 0.448 0.46 0.471 0.483 0.495 0.507 0.518 0.53 0.542 0.554 0.565 0.577 0.589 0.601 0.612 0.624 0.636 0.648 0.659 0.671 0.683 0.695 0.706 0.718 0.73 0.742 0.753 0.765 0.777 0.789 0.8 0.812 0.824 0.836 0.847 0.859 0.871 0.883 0.894 0.906 0.918 0.93 0.941 0.953 0.965 0.977 0.988 1 1 1 1 1 1 1 1 1 1 1 1 1 1 1 1 1 1 1 1 1 1 1 1 1 1 1 1 1 1 1 1 1 1 1 1 1 1 1 1 1 1 1 1 1 1 1 1 1 1 1 1 1 1 1 1 1 1 1 1 1 1 1 1 1 1 1 1 1 1 1 1 1 1 1 1 1 1 1 1 1 1 1 1 1 1 0.988 0.977 0.965 0.953 0.941 0.93 0.918 0.906 0.894 0.882 0.871 0.859 0.847 0.835 0.824 0.812 0.8 0.788 0.777 0.765 0.753 0.741 0.729 0.718 0.706 0.694 0.682 0.671 0.659 0.647 0.635 0.624 0.612 0.6 0.588 0.577 0.565 0.553 0.541 0.529 0.518 0.506 0.494 0.482 0.471 0.459 0.447 0.435 0.424 0.412 0.4 0.388 0.377 0.365 0.353 0.341 0.329 0.318 0.306 0.294 0.282 0.271 0.259 0.247 0.235 0.224 0.212 0.2 0.188 0.176 0.165 0.153 0.141 0.129 0.118 0.106 0.094 0.082 0.071 0.059 0.047 0.035 0.024 0.012 0"/><feFuncB type="table" tableValues="1 1 1 1 1 1 1 1 1 1 1 1 1 1 1 1 1 1 1 1 1 1 1 1 1 1 1 1 1 1 1 1 1 1 1 1 1 1 1 1 1 1 1 1 1 1 1 1 1 1 1 1 1 1 1 1 1 1 1 1 1 1 1 1 1 1 1 1 1 1 1 1 1 1 1 1 1 1 1 1 1 1 1 1 1 1 0.989 0.978 0.967 0.957 0.946 0.935 0.924 0.913 0.903 0.892 0.881 0.87 0.859 0.849 0.838 0.827 0.816 0.805 0.795 0.784 0.773 0.762 0.751 0.74 0.73 0.719 0.708 0.689 0.669 0.648 0.628 0.611 0.595 0.578 0.562 0.545 0.529 0.513 0.505 0.499 0.493 0.487 0.481 0.475 0.469 0.463 0.458 0.452 0.438 0.424 0.41 0.396 0.382 0.368 0.354 0.34 0.325 0.311 0.297 0.283 0.266 0.244 0.222 0.2 0.178 0.156 0.134 0.112 0.09 0.068 0.046 0.024 0.002 0 0 0 0 0 0 0 0 0 0 0 0 0 0 0 0 0 0 0 0 0 0 0 0 0 0 0 0 0 0 0 0 0 0 0 0 0 0 0 0 0 0 0 0 0 0 0 0 0 0 0 0 0 0 0 0 0 0 0 0 0 0 0 0 0 0 0 0 0 0 0 0 0 0 0 0 0 0 0 0 0 0 0 0 0 0 0 0 0 0 0 0 0 0 0 0 0"/></feComponentTransfer></filter>
<clipPath id="cpf"><rect x="1634.6" y="908.1" width="771.7" height="825.9"/></clipPath>
<linearGradient id="gxf" gradientUnits="userSpaceOnUse" x1="-340" y1="0" x2="340" y2="0"><stop offset="0" stop-opacity="1"/><stop offset="0.0147" stop-opacity="1"/><stop offset="0.0294" stop-opacity="1"/><stop offset="0.0441" stop-opacity="1"/><stop offset="0.0588" stop-opacity="0.9999"/><stop offset="0.0735" stop-opacity="0.9999"/><stop offset="0.0882" stop-opacity="0.9998"/><stop offset="0.1029" stop-opacity="0.9996"/><stop offset="0.1176" stop-opacity="0.9994"/><stop offset="0.1324" stop-opacity="0.9989"/><stop offset="0.1471" stop-opacity="0.9981"/><stop offset="0.1618" stop-opacity="0.9968"/><stop offset="0.1765" stop-opacity="0.9948"/><stop offset="0.1912" stop-opacity="0.9917"/><stop offset="0.2059" stop-opacity="0.9871"/><stop offset="0.2206" stop-opacity="0.9802"/><stop offset="0.2353" stop-opacity="0.9704"/><stop offset="0.25" stop-opacity="0.9567"/><stop offset="0.2647" stop-opacity="0.938"/><stop offset="0.2794" stop-opacity="0.9132"/><stop offset="0.2941" stop-opacity="0.881"/><stop offset="0.3088" stop-opacity="0.8405"/><stop offset="0.3235" stop-opacity="0.7907"/><stop offset="0.3382" stop-opacity="0.7312"/><stop offset="0.3529" stop-opacity="0.6624"/><stop offset="0.3676" stop-opacity="0.585"/><stop offset="0.3824" stop-opacity="0.5008"/><stop offset="0.3971" stop-opacity="0.4125"/><stop offset="0.4118" stop-opacity="0.3235"/><stop offset="0.4265" stop-opacity="0.2377"/><stop offset="0.4412" stop-opacity="0.1594"/><stop offset="0.4559" stop-opacity="0.0931"/><stop offset="0.4706" stop-opacity="0.0425"/><stop offset="0.4853" stop-opacity="0.0108"/><stop offset="0.5" stop-opacity="0"/><stop offset="0.5147" stop-opacity="0.0108"/><stop offset="0.5294" stop-opacity="0.0425"/><stop offset="0.5441" stop-opacity="0.0931"/><stop offset="0.5588" stop-opacity="0.1594"/><stop offset="0.5735" stop-opacity="0.2377"/><stop offset="0.5882" stop-opacity="0.3235"/><stop offset="0.6029" stop-opacity="0.4125"/><stop offset="0.6176" stop-opacity="0.5008"/><stop offset="0.6324" stop-opacity="0.585"/><stop offset="0.6471" stop-opacity="0.6624"/><stop offset="0.6618" stop-opacity="0.7312"/><stop offset="0.6765" stop-opacity="0.7907"/><stop offset="0.6912" stop-opacity="0.8405"/><stop offset="0.7059" stop-opacity="0.881"/><stop offset="0.7206" stop-opacity="0.9132"/><stop offset="0.7353" stop-opacity="0.938"/><stop offset="0.75" stop-opacity="0.9567"/><stop offset="0.7647" stop-opacity="0.9704"/><stop offset="0.7794" stop-opacity="0.9802"/><stop offset="0.7941" stop-opacity="0.9871"/><stop offset="0.8088" stop-opacity="0.9917"/><stop offset="0.8235" stop-opacity="0.9948"/><stop offset="0.8382" stop-opacity="0.9968"/><stop offset="0.8529" stop-opacity="0.9981"/><stop offset="0.8676" stop-opacity="0.9989"/><stop offset="0.8824" stop-opacity="0.9994"/><stop offset="0.8971" stop-opacity="0.9996"/><stop offset="0.9118" stop-opacity="0.9998"/><stop offset="0.9265" stop-opacity="0.9999"/><stop offset="0.9412" stop-opacity="0.9999"/><stop offset="0.9559" stop-opacity="1"/><stop offset="0.9706" stop-opacity="1"/><stop offset="0.9853" stop-opacity="1"/><stop offset="1" stop-opacity="1"/></linearGradient>
<linearGradient id="gyf" gradientUnits="userSpaceOnUse" x1="0" y1="-460" x2="0" y2="460"><stop offset="0" stop-color="#000000"/><stop offset="0.0147" stop-color="#000000"/><stop offset="0.0294" stop-color="#000000"/><stop offset="0.0441" stop-color="#000000"/><stop offset="0.0588" stop-color="#000000"/><stop offset="0.0735" stop-color="#000000"/><stop offset="0.0882" stop-color="#000000"/><stop offset="0.1029" stop-color="#000000"/><stop offset="0.1176" stop-color="#000000"/><stop offset="0.1324" stop-color="#000000"/><stop offset="0.1471" stop-color="#010101"/><stop offset="0.1618" stop-color="#010101"/><stop offset="0.1765" stop-color="#020202"/><stop offset="0.1912" stop-color="#030303"/><stop offset="0.2059" stop-color="#050505"/><stop offset="0.2206" stop-color="#090909"/><stop offset="0.2353" stop-color="#0d0d0d"/><stop offset="0.25" stop-color="#141414"/><stop offset="0.2647" stop-color="#1c1c1c"/><stop offset="0.2794" stop-color="#272727"/><stop offset="0.2941" stop-color="#343434"/><stop offset="0.3088" stop-color="#444444"/><stop offset="0.3235" stop-color="#565656"/><stop offset="0.3382" stop-color="#696969"/><stop offset="0.3529" stop-color="#7d7d7d"/><stop offset="0.3676" stop-color="#919191"/><stop offset="0.3824" stop-color="#a4a4a4"/><stop offset="0.3971" stop-color="#b6b6b6"/><stop offset="0.4118" stop-color="#c6c6c6"/><stop offset="0.4265" stop-color="#d3d3d3"/><stop offset="0.4412" stop-color="#dddddd"/><stop offset="0.4559" stop-color="#e5e5e5"/><stop offset="0.4706" stop-color="#eaeaea"/><stop offset="0.4853" stop-color="#ededed"/><stop offset="0.5" stop-color="#eeeeee"/><stop offset="0.5147" stop-color="#ededed"/><stop offset="0.5294" stop-color="#eaeaea"/><stop offset="0.5441" stop-color="#e5e5e5"/><stop offset="0.5588" stop-color="#dddddd"/><stop offset="0.5735" stop-color="#d3d3d3"/><stop offset="0.5882" stop-color="#c6c6c6"/><stop offset="0.6029" stop-color="#b6b6b6"/><stop offset="0.6176" stop-color="#a4a4a4"/><stop offset="0.6324" stop-color="#919191"/><stop offset="0.6471" stop-color="#7d7d7d"/><stop offset="0.6618" stop-color="#696969"/><stop offset="0.6765" stop-color="#565656"/><stop offset="0.6912" stop-color="#444444"/><stop offset="0.7059" stop-color="#343434"/><stop offset="0.7206" stop-color="#272727"/><stop offset="0.7353" stop-color="#1c1c1c"/><stop offset="0.75" stop-color="#141414"/><stop offset="0.7647" stop-color="#0d0d0d"/><stop offset="0.7794" stop-color="#090909"/><stop offset="0.7941" stop-color="#050505"/><stop offset="0.8088" stop-color="#030303"/><stop offset="0.8235" stop-color="#020202"/><stop offset="0.8382" stop-color="#010101"/><stop offset="0.8529" stop-color="#010101"/><stop offset="0.8676" stop-color="#000000"/><stop offset="0.8824" stop-color="#000000"/><stop offset="0.8971" stop-color="#000000"/><stop offset="0.9118" stop-color="#000000"/><stop offset="0.9265" stop-color="#000000"/><stop offset="0.9412" stop-color="#000000"/><stop offset="0.9559" stop-color="#000000"/><stop offset="0.9706" stop-color="#000000"/><stop offset="0.9853" stop-color="#000000"/><stop offset="1" stop-color="#000000"/></linearGradient>
<filter id="cmf" filterUnits="userSpaceOnUse" x="1632" y="905.5" width="776.9" height="831.1" color-interpolation-filters="sRGB"><feComponentTransfer><feFuncR type="table" tableValues="0 0.008 0.017 0.025 0.034 0.042 0.051 0.059 0.068 0.076 0.085 0.086 0.085 0.084 0.083 0.083 0.082 0.081 0.08 0.08 0.079 0.074 0.066 0.058 0.051 0.043 0.035 0.028 0.02 0.012 0.005 0 0 0 0 0 0 0 0 0 0 0 0 0 0 0 0 0 0 0 0 0 0 0 0 0 0 0 0 0 0 0 0 0 0 0 0 0 0 0 0 0 0 0 0 0 0 0 0 0 0 0 0 0 0 0 0 0 0 0 0 0 0 0 0 0 0 0 0 0 0 0 0 0 0 0 0 0 0 0 0 0 0 0.049 0.111 0.172 0.234 0.267 0.3 0.333 0.366 0.399 0.432 0.465 0.485 0.503 0.521 0.539 0.556 0.574 0.592 0.61 0.627 0.645 0.658 0.671 0.683 0.696 0.708 0.721 0.734 0.746 0.759 0.771 0.784 0.796 0.808 0.817 0.826 0.836 0.845 0.855 0.864 0.874 0.883 0.892 0.902 0.911 0.921 0.927 0.934 0.941 0.947 0.954 0.96 0.967 0.974 0.98 0.987 0.993 1 1 1 1 1 1 1 1 1 1 1 1 1 1 1 1 1 1 1 1 1 1 1 1 1 1 1 1 1 1 1 1 1 1 1 1 1 1 1 1 1 1 1 1 1 1 1 1 1 1 1 1 1 1 1 1 1 1 1 1 1 1 1 1 1 1 1 1 1 1 1 1 1 1 1 1 1 1 1 1 1 1 1 1 1 1"/><feFuncG type="table" tableValues="0 0.012 0.024 0.036 0.048 0.06 0.072 0.083 0.095 0.107 0.119 0.131 0.142 0.154 0.165 0.177 0.188 0.2 0.212 0.223 0.235 0.246 0.258 0.27 0.282 0.294 0.306 0.318 0.33 0.342 0.354 0.365 0.377 0.389 0.401 0.412 0.424 0.436 0.448 0.46 0.471 0.483 0.495 0.507 0.518 0.53 0.542 0.554 0.565 0.577 0.589 0.601 0.612 0.624 0.636 0.648 0.659 0.671 0.683 0.695 0.706 0.718 0.73 0.742 0.753 0.765 0.777 0.789 0.8 0.812 0.824 0.836 0.847 0.859 0.871 0.883 0.894 0.906 0.918 0.93 0.941 0.953 0.965 0.977 0.988 1 1 1 1 1 1 1 1 1 1 1 1 1 1 1 1 1 1 1 1 1 1 1 1 1 1 1 1 1 1 1 1 1 1 1 1 1 1 1 1 1 1 1 1 1 1 1 1 1 1 1 1 1 1 1 1 1 1 1 1 1 1 1 1 1 1 1 1 1 1 1 1 1 1 1 1 1 1 1 1 1 1 1 1 1 1 0.988 0.977 0.965 0.953 0.941 0.93 0.918 0.906 0.894 0.882 0.871 0.859 0.847 0.835 0.824 0.812 0.8 0.788 0.777 0.765 0.753 0.741 0.729 0.718 0.706 0.694 0.682 0.671 0.659 0.647 0.635 0.624 0.612 0.6 0.588 0.577 0.565 0.553 0.541 0.529 0.518 0.506 0.494 0.482 0.471 0.459 0.447 0.435 0.424 0.412 0.4 0.388 0.377 0.365 0.353 0.341 0.329 0.318 0.306 0.294 0.282 0.271 0.259 0.247 0.235 0.224 0.212 0.2 0.188 0.176 0.165 0.153 0.141 0.129 0.118 0.106 0.094 0.082 0.071 0.059 0.047 0.035 0.024 0.012 0"/><feFuncB type="table" tableValues="1 1 1 1 1 1 1 1 1 1 1 1 1 1 1 1 1 1 1 1 1 1 1 1 1 1 1 1 1 1 1 1 1 1 1 1 1 1 1 1 1 1 1 1 1 1 1 1 1 1 1 1 1 1 1 1 1 1 1 1 1 1 1 1 1 1 1 1 1 1 1 1 1 1 1 1 1 1 1 1 1 1 1 1 1 1 0.989 0.978 0.967 0.957 0.946 0.935 0.924 0.913 0.903 0.892 0.881 0.87 0.859 0.849 0.838 0.827 0.816 0.805 0.795 0.784 0.773 0.762 0.751 0.74 0.73 0.719 0.708 0.689 0.669 0.648 0.628 0.611 0.595 0.578 0.562 0.545 0.529 0.513 0.505 0.499 0.493 0.487 0.481 0.475 0.469 0.463 0.458 0.452 0.438 0.424 0.41 0.396 0.382 0.368 0.354 0.34 0.325 0.311 0.297 0.283 0.266 0.244 0.222 0.2 0.178 0.156 0.134 0.112 0.09 0.068 0.046 0.024 0.002 0 0 0 0 0 0 0 0 0 0 0 0 0 0 0 0 0 0 0 0 0 0 0 0 0 0 0 0 0 0 0 0 0 0 0 0 0 0 0 0 0 0 0 0 0 0 0 0 0 0 0 0 0 0 0 0 0 0 0 0 0 0 0 0 0 0 0 0 0 0 0 0 0 0 0 0 0 0 0 0 0 0 0 0 0 0 0 0 0 0 0 0 0 0 0 0 0"/></feComponentTransfer></filter>
<clipPath id="cpg"><rect x="57.8" y="1758" width="770.2" height="826.7"/></clipPath>
<linearGradient id="gxg" gradientUnits="userSpaceOnUse" x1="-340" y1="0" x2="340" y2="0"><stop offset="0" stop-opacity="1"/><stop offset="0.0147" stop-opacity="1"/><stop offset="0.0294" stop-opacity="1"/><stop offset="0.0441" stop-opacity="1"/><stop offset="0.0588" stop-opacity="0.9999"/><stop offset="0.0735" stop-opacity="0.9999"/><stop offset="0.0882" stop-opacity="0.9998"/><stop offset="0.1029" stop-opacity="0.9996"/><stop offset="0.1176" stop-opacity="0.9994"/><stop offset="0.1324" stop-opacity="0.9989"/><stop offset="0.1471" stop-opacity="0.9981"/><stop offset="0.1618" stop-opacity="0.9968"/><stop offset="0.1765" stop-opacity="0.9948"/><stop offset="0.1912" stop-opacity="0.9917"/><stop offset="0.2059" stop-opacity="0.9871"/><stop offset="0.2206" stop-opacity="0.9802"/><stop offset="0.2353" stop-opacity="0.9704"/><stop offset="0.25" stop-opacity="0.9567"/><stop offset="0.2647" stop-opacity="0.938"/><stop offset="0.2794" stop-opacity="0.9132"/><stop offset="0.2941" stop-opacity="0.881"/><stop offset="0.3088" stop-opacity="0.8405"/><stop offset="0.3235" stop-opacity="0.7907"/><stop offset="0.3382" stop-opacity="0.7312"/><stop offset="0.3529" stop-opacity="0.6624"/><stop offset="0.3676" stop-opacity="0.585"/><stop offset="0.3824" stop-opacity="0.5008"/><stop offset="0.3971" stop-opacity="0.4125"/><stop offset="0.4118" stop-opacity="0.3235"/><stop offset="0.4265" stop-opacity="0.2377"/><stop offset="0.4412" stop-opacity="0.1594"/><stop offset="0.4559" stop-opacity="0.0931"/><stop offset="0.4706" stop-opacity="0.0425"/><stop offset="0.4853" stop-opacity="0.0108"/><stop offset="0.5" stop-opacity="0"/><stop offset="0.5147" stop-opacity="0.0108"/><stop offset="0.5294" stop-opacity="0.0425"/><stop offset="0.5441" stop-opacity="0.0931"/><stop offset="0.5588" stop-opacity="0.1594"/><stop offset="0.5735" stop-opacity="0.2377"/><stop offset="0.5882" stop-opacity="0.3235"/><stop offset="0.6029" stop-opacity="0.4125"/><stop offset="0.6176" stop-opacity="0.5008"/><stop offset="0.6324" stop-opacity="0.585"/><stop offset="0.6471" stop-opacity="0.6624"/><stop offset="0.6618" stop-opacity="0.7312"/><stop offset="0.6765" stop-opacity="0.7907"/><stop offset="0.6912" stop-opacity="0.8405"/><stop offset="0.7059" stop-opacity="0.881"/><stop offset="0.7206" stop-opacity="0.9132"/><stop offset="0.7353" stop-opacity="0.938"/><stop offset="0.75" stop-opacity="0.9567"/><stop offset="0.7647" stop-opacity="0.9704"/><stop offset="0.7794" stop-opacity="0.9802"/><stop offset="0.7941" stop-opacity="0.9871"/><stop offset="0.8088" stop-opacity="0.9917"/><stop offset="0.8235" stop-opacity="0.9948"/><stop offset="0.8382" stop-opacity="0.9968"/><stop offset="0.8529" stop-opacity="0.9981"/><stop offset="0.8676" stop-opacity="0.9989"/><stop offset="0.8824" stop-opacity="0.9994"/><stop offset="0.8971" stop-opacity="0.9996"/><stop offset="0.9118" stop-opacity="0.9998"/><stop offset="0.9265" stop-opacity="0.9999"/><stop offset="0.9412" stop-opacity="0.9999"/><stop offset="0.9559" stop-opacity="1"/><stop offset="0.9706" stop-opacity="1"/><stop offset="0.9853" stop-opacity="1"/><stop offset="1" stop-opacity="1"/></linearGradient>
<linearGradient id="gyg" gradientUnits="userSpaceOnUse" x1="0" y1="-460" x2="0" y2="460"><stop offset="0" stop-color="#000000"/><stop offset="0.0147" stop-color="#000000"/><stop offset="0.0294" stop-color="#000000"/><stop offset="0.0441" stop-color="#000000"/><stop offset="0.0588" stop-color="#000000"/><stop offset="0.0735" stop-color="#000000"/><stop offset="0.0882" stop-color="#000000"/><stop offset="0.1029" stop-color="#000000"/><stop offset="0.1176" stop-color="#000000"/><stop offset="0.1324" stop-color="#000000"/><stop offset="0.1471" stop-color="#010101"/><stop offset="0.1618" stop-color="#010101"/><stop offset="0.1765" stop-color="#020202"/><stop offset="0.1912" stop-color="#040404"/><stop offset="0.2059" stop-color="#060606"/><stop offset="0.2206" stop-color="#090909"/><stop offset="0.2353" stop-color="#0e0e0e"/><stop offset="0.25" stop-color="#151515"/><stop offset="0.2647" stop-color="#1e1e1e"/><stop offset="0.2794" stop-color="#2a2a2a"/><stop offset="0.2941" stop-color="#383838"/><stop offset="0.3088" stop-color="#494949"/><stop offset="0.3235" stop-color="#5c5c5c"/><stop offset="0.3382" stop-color="#707070"/><stop offset="0.3529" stop-color="#858585"/><stop offset="0.3676" stop-color="#9a9a9a"/><stop offset="0.3824" stop-color="#aeaeae"/><stop offset="0.3971" stop-color="#c1c1c1"/><stop offset="0.4118" stop-color="#d1d1d1"/><stop offset="0.4265" stop-color="#dedede"/><stop offset="0.4412" stop-color="#e9e9e9"/><stop offset="0.4559" stop-color="#f1f1f1"/><stop offset="0.4706" stop-color="#f7f7f7"/><stop offset="0.4853" stop-color="#fafafa"/><stop offset="0.5" stop-color="#fbfbfb"/><stop offset="0.5147" stop-color="#fafafa"/><stop offset="0.5294" stop-color="#f7f7f7"/><stop offset="0.5441" stop-color="#f1f1f1"/><stop offset="0.5588" stop-color="#e9e9e9"/><stop offset="0.5735" stop-color="#dedede"/><stop offset="0.5882" stop-color="#d1d1d1"/><stop offset="0.6029" stop-color="#c1c1c1"/><stop offset="0.6176" stop-color="#aeaeae"/><stop offset="0.6324" stop-color="#9a9a9a"/><stop offset="0.6471" stop-color="#858585"/><stop offset="0.6618" stop-color="#707070"/><stop offset="0.6765" stop-color="#5c5c5c"/><stop offset="0.6912" stop-color="#494949"/><stop offset="0.7059" stop-color="#383838"/><stop offset="0.7206" stop-color="#2a2a2a"/><stop offset="0.7353" stop-color="#1e1e1e"/><stop offset="0.75" stop-color="#151515"/><stop offset="0.7647" stop-color="#0e0e0e"/><stop offset="0.7794" stop-color="#090909"/><stop offset="0.7941" stop-color="#060606"/><stop offset="0.8088" stop-color="#040404"/><stop offset="0.8235" stop-color="#020202"/><stop offset="0.8382" stop-color="#010101"/><stop offset="0.8529" stop-color="#010101"/><stop offset="0.8676" stop-color="#000000"/><stop offset="0.8824" stop-color="#000000"/><stop offset="0.8971" stop-color="#000000"/><stop offset="0.9118" stop-color="#000000"/><stop offset="0.9265" stop-color="#000000"/><stop offset="0.9412" stop-color="#000000"/><stop offset="0.9559" stop-color="#000000"/><stop offset="0.9706" stop-color="#000000"/><stop offset="0.9853" stop-color="#000000"/><stop offset="1" stop-color="#000000"/></linearGradient>
<filter id="cmg" filterUnits="userSpaceOnUse" x="55.2" y="1755.4" width="775.4" height="831.9" color-interpolation-filters="sRGB"><feComponentTransfer><feFuncR type="table" tableValues="0 0.008 0.017 0.025 0.034 0.042 0.051 0.059 0.068 0.076 0.085 0.086 0.085 0.084 0.083 0.083 0.082 0.081 0.08 0.08 0.079 0.074 0.066 0.058 0.051 0.043 0.035 0.028 0.02 0.012 0.005 0 0 0 0 0 0 0 0 0 0 0 0 0 0 0 0 0 0 0 0 0 0 0 0 0 0 0 0 0 0 0 0 0 0 0 0 0 0 0 0 0 0 0 0 0 0 0 0 0 0 0 0 0 0 0 0 0 0 0 0 0 0 0 0 0 0 0 0 0 0 0 0 0 0 0 0 0 0 0 0 0 0 0.049 0.111 0.172 0.234 0.267 0.3 0.333 0.366 0.399 0.432 0.465 0.485 0.503 0.521 0.539 0.556 0.574 0.592 0.61 0.627 0.645 0.658 0.671 0.683 0.696 0.708 0.721 0.734 0.746 0.759 0.771 0.784 0.796 0.808 0.817 0.826 0.836 0.845 0.855 0.864 0.874 0.883 0.892 0.902 0.911 0.921 0.927 0.934 0.941 0.947 0.954 0.96 0.967 0.974 0.98 0.987 0.993 1 1 1 1 1 1 1 1 1 1 1 1 1 1 1 1 1 1 1 1 1 1 1 1 1 1 1 1 1 1 1 1 1 1 1 1 1 1 1 1 1 1 1 1 1 1 1 1 1 1 1 1 1 1 1 1 1 1 1 1 1 1 1 1 1 1 1 1 1 1 1 1 1 1 1 1 1 1 1 1 1 1 1 1 1 1"/><feFuncG type="table" tableValues="0 0.012 0.024 0.036 0.048 0.06 0.072 0.083 0.095 0.107 0.119 0.131 0.142 0.154 0.165 0.177 0.188 0.2 0.212 0.223 0.235 0.246 0.258 0.27 0.282 0.294 0.306 0.318 0.33 0.342 0.354 0.365 0.377 0.389 0.401 0.412 0.424 0.436 0.448 0.46 0.471 0.483 0.495 0.507 0.518 0.53 0.542 0.554 0.565 0.577 0.589 0.601 0.612 0.624 0.636 0.648 0.659 0.671 0.683 0.695 0.706 0.718 0.73 0.742 0.753 0.765 0.777 0.789 0.8 0.812 0.824 0.836 0.847 0.859 0.871 0.883 0.894 0.906 0.918 0.93 0.941 0.953 0.965 0.977 0.988 1 1 1 1 1 1 1 1 1 1 1 1 1 1 1 1 1 1 1 1 1 1 1 1 1 1 1 1 1 1 1 1 1 1 1 1 1 1 1 1 1 1 1 1 1 1 1 1 1 1 1 1 1 1 1 1 1 1 1 1 1 1 1 1 1 1 1 1 1 1 1 1 1 1 1 1 1 1 1 1 1 1 1 1 1 1 0.988 0.977 0.965 0.953 0.941 0.93 0.918 0.906 0.894 0.882 0.871 0.859 0.847 0.835 0.824 0.812 0.8 0.788 0.777 0.765 0.753 0.741 0.729 0.718 0.706 0.694 0.682 0.671 0.659 0.647 0.635 0.624 0.612 0.6 0.588 0.577 0.565 0.553 0.541 0.529 0.518 0.506 0.494 0.482 0.471 0.459 0.447 0.435 0.424 0.412 0.4 0.388 0.377 0.365 0.353 0.341 0.329 0.318 0.306 0.294 0.282 0.271 0.259 0.247 0.235 0.224 0.212 0.2 0.188 0.176 0.165 0.153 0.141 0.129 0.118 0.106 0.094 0.082 0.071 0.059 0.047 0.035 0.024 0.012 0"/><feFuncB type="table" tableValues="1 1 1 1 1 1 1 1 1 1 1 1 1 1 1 1 1 1 1 1 1 1 1 1 1 1 1 1 1 1 1 1 1 1 1 1 1 1 1 1 1 1 1 1 1 1 1 1 1 1 1 1 1 1 1 1 1 1 1 1 1 1 1 1 1 1 1 1 1 1 1 1 1 1 1 1 1 1 1 1 1 1 1 1 1 1 0.989 0.978 0.967 0.957 0.946 0.935 0.924 0.913 0.903 0.892 0.881 0.87 0.859 0.849 0.838 0.827 0.816 0.805 0.795 0.784 0.773 0.762 0.751 0.74 0.73 0.719 0.708 0.689 0.669 0.648 0.628 0.611 0.595 0.578 0.562 0.545 0.529 0.513 0.505 0.499 0.493 0.487 0.481 0.475 0.469 0.463 0.458 0.452 0.438 0.424 0.41 0.396 0.382 0.368 0.354 0.34 0.325 0.311 0.297 0.283 0.266 0.244 0.222 0.2 0.178 0.156 0.134 0.112 0.09 0.068 0.046 0.024 0.002 0 0 0 0 0 0 0 0 0 0 0 0 0 0 0 0 0 0 0 0 0 0 0 0 0 0 0 0 0 0 0 0 0 0 0 0 0 0 0 0 0 0 0 0 0 0 0 0 0 0 0 0 0 0 0 0 0 0 0 0 0 0 0 0 0 0 0 0 0 0 0 0 0 0 0 0 0 0 0 0 0 0 0 0 0 0 0 0 0 0 0 0 0 0 0 0 0"/></feComponentTransfer></filter>
<linearGradient id="cb" x1="0" y1="0" x2="1" y2="0"><stop offset="0" stop-color="#0000ff"/><stop offset="0.04" stop-color="#161fff"/><stop offset="0.08" stop-color="#143dff"/><stop offset="0.12" stop-color="#005cff"/><stop offset="0.3333" stop-color="#00ffff"/><stop offset="0.44" stop-color="#00ffb4"/><stop offset="0.455" stop-color="#3cffa0"/><stop offset="0.483" stop-color="#78ff82"/><stop offset="0.522" stop-color="#a5ff73"/><stop offset="0.571" stop-color="#cdff46"/><stop offset="0.62" stop-color="#ebff00"/><stop offset="0.6667" stop-color="#ffff00"/><stop offset="1" stop-color="#ff0000"/></linearGradient>
</defs>
<rect width="2465" height="2643" fill="#fff"/>
<g clip-path="url(#cpa)"><g filter="url(#cma)"><g transform="translate(420.8 587) rotate(2.7)"><rect x="-800" y="-900" width="1600" height="1800" fill="url(#gya)"/><rect x="-800" y="-900" width="1600" height="1800" fill="url(#gxa)"/></g></g><polygon points="421.7,333.9 467.6,336.7 453.2,648.9 407.3,642.8" fill="none" stroke="#00000a" stroke-width="2.4" stroke-linejoin="miter"/><g fill="#ff0510"><circle cx="472.6" cy="123.1" r="3.1"/><circle cx="472.6" cy="134.4" r="3.1"/><circle cx="470.3" cy="145.6" r="3.1"/><circle cx="469.1" cy="156.5" r="3.1"/><circle cx="466.9" cy="167.2" r="3.1"/><circle cx="466.9" cy="190.5" r="3.1"/><circle cx="465.7" cy="200.3" r="3.1"/><circle cx="463.6" cy="211.5" r="3.1"/><circle cx="462.2" cy="222.7" r="3.1"/><circle cx="461.4" cy="233.6" r="3.1"/><circle cx="461.4" cy="245.7" r="3.1"/><circle cx="460.2" cy="256.9" r="3.1"/><circle cx="460.2" cy="267.8" r="3.1"/><circle cx="458.8" cy="279" r="3.1"/><circle cx="456.5" cy="290.2" r="3.1"/><circle cx="456.5" cy="300.1" r="3.1"/><circle cx="455" cy="310.9" r="3.1"/><circle cx="455" cy="322" r="3.1"/><circle cx="454.5" cy="332.8" r="3.1"/><circle cx="453.1" cy="342.3" r="3.1"/><circle cx="453.1" cy="353.2" r="3.1"/><circle cx="451.7" cy="364.3" r="3.1"/><circle cx="451.5" cy="375.5" r="3.1"/><circle cx="449.5" cy="386.7" r="3.1"/><circle cx="448" cy="397.6" r="3.1"/><circle cx="448" cy="408.3" r="3.1"/><circle cx="447.5" cy="418.9" r="3.1"/><circle cx="447.5" cy="430.3" r="3.1"/><circle cx="446.4" cy="441.7" r="3.1"/><circle cx="444.7" cy="452.7" r="3.1"/><circle cx="444.7" cy="464" r="3.1"/><circle cx="442.8" cy="475.2" r="3.1"/><circle cx="184.5" cy="371.2" r="3.1"/><circle cx="193.6" cy="372.5" r="3.1"/><circle cx="205.2" cy="375.5" r="3.1"/><circle cx="216" cy="378.1" r="3.1"/><circle cx="219.3" cy="400.5" r="3.1"/><circle cx="218.2" cy="416.5" r="3.1"/><circle cx="226.4" cy="430.3" r="3.1"/><circle cx="242.8" cy="429" r="3.1"/><circle cx="254.4" cy="431.6" r="3.1"/><circle cx="260.9" cy="440.2" r="3.1"/><circle cx="264.6" cy="449.7" r="3.1"/><circle cx="264.6" cy="460.7" r="3.1"/><circle cx="263.9" cy="471.1" r="3.1"/><circle cx="276.9" cy="476.5" r="3.1"/><circle cx="283.3" cy="484.7" r="3.1"/><circle cx="292.4" cy="489.2" r="3.1"/><circle cx="302.8" cy="493.7" r="3.1"/><circle cx="311.2" cy="501.1" r="3.1"/><circle cx="318.5" cy="507.6" r="3.1"/><circle cx="330.8" cy="510.1" r="3.1"/><circle cx="345.9" cy="508.8" r="3.1"/><circle cx="352.4" cy="510.1" r="3.1"/><circle cx="362.7" cy="516" r="3.1"/><circle cx="371.6" cy="520.3" r="3.1"/><circle cx="381.9" cy="524.6" r="3.1"/><circle cx="392.3" cy="524.6" r="3.1"/><circle cx="404.6" cy="524.6" r="3.1"/><circle cx="415.8" cy="524.6" r="3.1"/><circle cx="425.1" cy="527" r="3.1"/><circle cx="434.4" cy="530" r="3.1"/><circle cx="442.8" cy="538.2" r="3.1"/><circle cx="442.3" cy="548.1" r="3.1"/><circle cx="440.8" cy="558.9" r="3.1"/><circle cx="436.1" cy="569" r="3.1"/><circle cx="434.6" cy="580.5" r="3.1"/><circle cx="434.6" cy="591.9" r="3.1"/><circle cx="432.8" cy="603.1" r="3.1"/><circle cx="432.8" cy="612.8" r="3.1"/><circle cx="434.6" cy="623.8" r="3.1"/><circle cx="434.6" cy="635.1" r="3.1"/><circle cx="434.6" cy="646" r="3.1"/><circle cx="434.6" cy="656.5" r="3.1"/><circle cx="436.3" cy="666" r="3.1"/><circle cx="437.8" cy="680.3" r="3.1"/><circle cx="434.6" cy="691.3" r="3.1"/><circle cx="432.6" cy="701.1" r="3.1"/><circle cx="429.4" cy="712.1" r="3.1"/><circle cx="425.9" cy="721.6" r="3.1"/><circle cx="424" cy="732.9" r="3.1"/><circle cx="420.6" cy="743.2" r="3.1"/><circle cx="417.1" cy="754.7" r="3.1"/><circle cx="413.4" cy="764.4" r="3.1"/><circle cx="411.5" cy="774.9" r="3.1"/><circle cx="408.7" cy="785.3" r="3.1"/><circle cx="405" cy="796.5" r="3.1"/><circle cx="403.1" cy="805.8" r="3.1"/><circle cx="399.4" cy="817" r="3.1"/><circle cx="394.4" cy="826.5" r="3.1"/><circle cx="390.6" cy="836" r="3.1"/><circle cx="385.6" cy="845.7" r="3.1"/><circle cx="383.4" cy="853.9" r="3.1"/><circle cx="477.3" cy="521.3" r="3.1"/><circle cx="489.5" cy="525.6" r="3.1"/><circle cx="498.2" cy="528.5" r="3.1"/><circle cx="508.5" cy="532.6" r="3.1"/><circle cx="518.9" cy="535.5" r="3.1"/><circle cx="529.7" cy="539.6" r="3.1"/><circle cx="538.6" cy="543.9" r="3.1"/><circle cx="548.6" cy="548.4" r="3.1"/><circle cx="560.4" cy="550.8" r="3.1"/><circle cx="569" cy="555.1" r="3.1"/><circle cx="579.6" cy="559.4" r="3.1"/><circle cx="588.6" cy="562" r="3.1"/><circle cx="600.3" cy="566.1" r="3.1"/><circle cx="609.5" cy="570.2" r="3.1"/><circle cx="621.6" cy="574.7" r="3.1"/><circle cx="630.5" cy="579.5" r="3.1"/><circle cx="640.8" cy="582.1" r="3.1"/><circle cx="650.5" cy="586.1" r="3.1"/><circle cx="660.7" cy="590.7" r="3.1"/><circle cx="671.5" cy="594.6" r="3.1"/><circle cx="680.5" cy="597.6" r="3.1"/></g><rect x="82.2" y="86.2" width="124.1" height="44.5" fill="#fff"/><text x="92.4" y="120.9" class="lb" textLength="105.5" lengthAdjust="spacing">(a)139d</text><text x="751" y="124.4" class="nn">N</text><path fill="#000" fill-rule="evenodd" d="M750.2 136L782.4 243L750.1 205.8L717.8 243.6ZM750.7 147.5L773.2 226.2L750.7 200.8Z"/><g class="sc"><path d="M102.3 821.5V845.1H276V821.5M189.5 828.1V845.1" fill="none" stroke="#000" stroke-width="4.6"/><text x="101.3" y="803.7" text-anchor="middle">0</text><text x="187.5" y="803.7" text-anchor="middle">200</text><text x="273.6" y="803.7" text-anchor="middle">400</text><text x="312.6" y="803.7">m</text></g></g><rect x="57.6" y="59.6" width="770.4" height="827.5" fill="none" stroke="#000" stroke-width="5.2" stroke-linejoin="round"/>
<g clip-path="url(#cpb)"><g filter="url(#cmb)"><g transform="translate(1209.5 570.8) rotate(2.7)"><rect x="-800" y="-900" width="1600" height="1800" fill="url(#gyb)"/><rect x="-800" y="-900" width="1600" height="1800" fill="url(#gxb)"/></g></g><polygon points="1211.7,333.9 1257.6,336.7 1243.2,648.9 1197.3,642.8" fill="none" stroke="#00000a" stroke-width="2.4" stroke-linejoin="miter"/><g fill="#ff0510"><circle cx="1262.6" cy="123.1" r="3.1"/><circle cx="1262.6" cy="134.4" r="3.1"/><circle cx="1260.3" cy="145.6" r="3.1"/><circle cx="1259.1" cy="156.5" r="3.1"/><circle cx="1256.9" cy="167.2" r="3.1"/><circle cx="1256.9" cy="190.5" r="3.1"/><circle cx="1255.7" cy="200.3" r="3.1"/><circle cx="1253.6" cy="211.5" r="3.1"/><circle cx="1252.2" cy="222.7" r="3.1"/><circle cx="1251.4" cy="233.6" r="3.1"/><circle cx="1251.4" cy="245.7" r="3.1"/><circle cx="1250.2" cy="256.9" r="3.1"/><circle cx="1250.2" cy="267.8" r="3.1"/><circle cx="1248.8" cy="279" r="3.1"/><circle cx="1246.5" cy="290.2" r="3.1"/><circle cx="1246.5" cy="300.1" r="3.1"/><circle cx="1245" cy="310.9" r="3.1"/><circle cx="1245" cy="322" r="3.1"/><circle cx="1244.5" cy="332.8" r="3.1"/><circle cx="1243.1" cy="342.3" r="3.1"/><circle cx="1243.1" cy="353.2" r="3.1"/><circle cx="1241.7" cy="364.3" r="3.1"/><circle cx="1241.5" cy="375.5" r="3.1"/><circle cx="1239.5" cy="386.7" r="3.1"/><circle cx="1238" cy="397.6" r="3.1"/><circle cx="1238" cy="408.3" r="3.1"/><circle cx="1237.5" cy="418.9" r="3.1"/><circle cx="1237.5" cy="430.3" r="3.1"/><circle cx="1236.4" cy="441.7" r="3.1"/><circle cx="1234.7" cy="452.7" r="3.1"/><circle cx="1234.7" cy="464" r="3.1"/><circle cx="1232.8" cy="475.2" r="3.1"/><circle cx="974.5" cy="371.2" r="3.1"/><circle cx="983.6" cy="372.5" r="3.1"/><circle cx="995.2" cy="375.5" r="3.1"/><circle cx="1006" cy="378.1" r="3.1"/><circle cx="1009.3" cy="400.5" r="3.1"/><circle cx="1008.2" cy="416.5" r="3.1"/><circle cx="1016.4" cy="430.3" r="3.1"/><circle cx="1032.8" cy="429" r="3.1"/><circle cx="1044.4" cy="431.6" r="3.1"/><circle cx="1050.9" cy="440.2" r="3.1"/><circle cx="1054.6" cy="449.7" r="3.1"/><circle cx="1054.6" cy="460.7" r="3.1"/><circle cx="1053.9" cy="471.1" r="3.1"/><circle cx="1066.9" cy="476.5" r="3.1"/><circle cx="1073.3" cy="484.7" r="3.1"/><circle cx="1082.4" cy="489.2" r="3.1"/><circle cx="1092.8" cy="493.7" r="3.1"/><circle cx="1101.2" cy="501.1" r="3.1"/><circle cx="1108.5" cy="507.6" r="3.1"/><circle cx="1120.8" cy="510.1" r="3.1"/><circle cx="1135.9" cy="508.8" r="3.1"/><circle cx="1142.4" cy="510.1" r="3.1"/><circle cx="1152.7" cy="516" r="3.1"/><circle cx="1161.6" cy="520.3" r="3.1"/><circle cx="1171.9" cy="524.6" r="3.1"/><circle cx="1182.3" cy="524.6" r="3.1"/><circle cx="1194.6" cy="524.6" r="3.1"/><circle cx="1205.8" cy="524.6" r="3.1"/><circle cx="1215.1" cy="527" r="3.1"/><circle cx="1224.4" cy="530" r="3.1"/><circle cx="1232.8" cy="538.2" r="3.1"/><circle cx="1232.3" cy="548.1" r="3.1"/><circle cx="1230.8" cy="558.9" r="3.1"/><circle cx="1226.1" cy="569" r="3.1"/><circle cx="1224.6" cy="580.5" r="3.1"/><circle cx="1224.6" cy="591.9" r="3.1"/><circle cx="1222.8" cy="603.1" r="3.1"/><circle cx="1222.8" cy="612.8" r="3.1"/><circle cx="1224.6" cy="623.8" r="3.1"/><circle cx="1224.6" cy="635.1" r="3.1"/><circle cx="1224.6" cy="646" r="3.1"/><circle cx="1224.6" cy="656.5" r="3.1"/><circle cx="1226.3" cy="666" r="3.1"/><circle cx="1227.8" cy="680.3" r="3.1"/><circle cx="1224.6" cy="691.3" r="3.1"/><circle cx="1222.6" cy="701.1" r="3.1"/><circle cx="1219.4" cy="712.1" r="3.1"/><circle cx="1215.9" cy="721.6" r="3.1"/><circle cx="1214" cy="732.9" r="3.1"/><circle cx="1210.6" cy="743.2" r="3.1"/><circle cx="1207.1" cy="754.7" r="3.1"/><circle cx="1203.4" cy="764.4" r="3.1"/><circle cx="1201.5" cy="774.9" r="3.1"/><circle cx="1198.7" cy="785.3" r="3.1"/><circle cx="1195" cy="796.5" r="3.1"/><circle cx="1193.1" cy="805.8" r="3.1"/><circle cx="1189.4" cy="817" r="3.1"/><circle cx="1184.4" cy="826.5" r="3.1"/><circle cx="1180.6" cy="836" r="3.1"/><circle cx="1175.6" cy="845.7" r="3.1"/><circle cx="1173.4" cy="853.9" r="3.1"/><circle cx="1267.3" cy="521.3" r="3.1"/><circle cx="1279.5" cy="525.6" r="3.1"/><circle cx="1288.2" cy="528.5" r="3.1"/><circle cx="1298.5" cy="532.6" r="3.1"/><circle cx="1308.9" cy="535.5" r="3.1"/><circle cx="1319.7" cy="539.6" r="3.1"/><circle cx="1328.6" cy="543.9" r="3.1"/><circle cx="1338.6" cy="548.4" r="3.1"/><circle cx="1350.4" cy="550.8" r="3.1"/><circle cx="1359" cy="555.1" r="3.1"/><circle cx="1369.6" cy="559.4" r="3.1"/><circle cx="1378.6" cy="562" r="3.1"/><circle cx="1390.3" cy="566.1" r="3.1"/><circle cx="1399.5" cy="570.2" r="3.1"/><circle cx="1411.6" cy="574.7" r="3.1"/><circle cx="1420.5" cy="579.5" r="3.1"/><circle cx="1430.8" cy="582.1" r="3.1"/><circle cx="1440.5" cy="586.1" r="3.1"/><circle cx="1450.7" cy="590.7" r="3.1"/><circle cx="1461.5" cy="594.6" r="3.1"/><circle cx="1470.5" cy="597.6" r="3.1"/></g><rect x="877.8" y="86.3" width="126.8" height="44.3" fill="#fff"/><text x="888.4" y="121" class="lb" textLength="107" lengthAdjust="spacing">(b)202d</text><text x="1539.1" y="124.4" class="nn">N</text><path fill="#000" fill-rule="evenodd" d="M1538.3 136L1570.5 243L1538.2 205.8L1505.9 243.6ZM1538.8 147.5L1561.3 226.2L1538.8 200.8Z"/><g class="sc"><path d="M899 820.8V844.9H1072.7V820.8M985.5 827.4V844.9" fill="none" stroke="#000" stroke-width="4.6"/><text x="898" y="803.9" text-anchor="middle">0</text><text x="983.5" y="803.9" text-anchor="middle">200</text><text x="1070.3" y="803.9" text-anchor="middle">400</text><text x="1109.3" y="803.9">m</text></g></g><rect x="847.2" y="59.6" width="770.5" height="827.5" fill="none" stroke="#000" stroke-width="5.2" stroke-linejoin="round"/>
<g clip-path="url(#cpc)"><g filter="url(#cmc)"><g transform="translate(1998 558.4) rotate(2.7)"><rect x="-800" y="-900" width="1600" height="1800" fill="url(#gyc)"/><rect x="-800" y="-900" width="1600" height="1800" fill="url(#gxc)"/></g></g><polygon points="2000.1,333.6 2046,336.4 2031.6,648.6 1985.7,642.5" fill="none" stroke="#00000a" stroke-width="2.4" stroke-linejoin="miter"/><g fill="#ff0510"><circle cx="2050" cy="122.8" r="3.1"/><circle cx="2050" cy="134.1" r="3.1"/><circle cx="2047.7" cy="145.3" r="3.1"/><circle cx="2046.5" cy="156.2" r="3.1"/><circle cx="2044.3" cy="166.9" r="3.1"/><circle cx="2044.3" cy="190.2" r="3.1"/><circle cx="2043.1" cy="200" r="3.1"/><circle cx="2041" cy="211.2" r="3.1"/><circle cx="2039.6" cy="222.4" r="3.1"/><circle cx="2038.8" cy="233.3" r="3.1"/><circle cx="2038.8" cy="245.4" r="3.1"/><circle cx="2037.6" cy="256.6" r="3.1"/><circle cx="2037.6" cy="267.5" r="3.1"/><circle cx="2036.2" cy="278.7" r="3.1"/><circle cx="2033.9" cy="289.9" r="3.1"/><circle cx="2033.9" cy="299.8" r="3.1"/><circle cx="2032.4" cy="310.6" r="3.1"/><circle cx="2032.4" cy="321.7" r="3.1"/><circle cx="2031.9" cy="332.5" r="3.1"/><circle cx="2030.5" cy="342" r="3.1"/><circle cx="2030.5" cy="352.9" r="3.1"/><circle cx="2029.1" cy="364" r="3.1"/><circle cx="2028.9" cy="375.2" r="3.1"/><circle cx="2026.9" cy="386.4" r="3.1"/><circle cx="2025.4" cy="397.3" r="3.1"/><circle cx="2025.4" cy="408" r="3.1"/><circle cx="2024.9" cy="418.6" r="3.1"/><circle cx="2024.9" cy="430" r="3.1"/><circle cx="2023.8" cy="441.4" r="3.1"/><circle cx="2022.1" cy="452.4" r="3.1"/><circle cx="2022.1" cy="463.7" r="3.1"/><circle cx="2020.2" cy="474.9" r="3.1"/><circle cx="1761.9" cy="370.9" r="3.1"/><circle cx="1771" cy="372.2" r="3.1"/><circle cx="1782.6" cy="375.2" r="3.1"/><circle cx="1793.4" cy="377.8" r="3.1"/><circle cx="1796.7" cy="400.2" r="3.1"/><circle cx="1795.6" cy="416.2" r="3.1"/><circle cx="1803.8" cy="430" r="3.1"/><circle cx="1820.2" cy="428.7" r="3.1"/><circle cx="1831.8" cy="431.3" r="3.1"/><circle cx="1838.3" cy="439.9" r="3.1"/><circle cx="1842" cy="449.4" r="3.1"/><circle cx="1842" cy="460.4" r="3.1"/><circle cx="1841.3" cy="470.8" r="3.1"/><circle cx="1854.3" cy="476.2" r="3.1"/><circle cx="1860.7" cy="484.4" r="3.1"/><circle cx="1869.8" cy="488.9" r="3.1"/><circle cx="1880.2" cy="493.4" r="3.1"/><circle cx="1888.6" cy="500.8" r="3.1"/><circle cx="1895.9" cy="507.3" r="3.1"/><circle cx="1908.2" cy="509.8" r="3.1"/><circle cx="1923.3" cy="508.5" r="3.1"/><circle cx="1929.8" cy="509.8" r="3.1"/><circle cx="1940.1" cy="515.7" r="3.1"/><circle cx="1949" cy="520" r="3.1"/><circle cx="1959.3" cy="524.3" r="3.1"/><circle cx="1969.7" cy="524.3" r="3.1"/><circle cx="1982" cy="524.3" r="3.1"/><circle cx="1993.2" cy="524.3" r="3.1"/><circle cx="2002.5" cy="526.7" r="3.1"/><circle cx="2011.8" cy="529.7" r="3.1"/><circle cx="2020.2" cy="537.9" r="3.1"/><circle cx="2019.7" cy="547.8" r="3.1"/><circle cx="2018.2" cy="558.6" r="3.1"/><circle cx="2013.5" cy="568.7" r="3.1"/><circle cx="2012" cy="580.2" r="3.1"/><circle cx="2012" cy="591.6" r="3.1"/><circle cx="2010.2" cy="602.8" r="3.1"/><circle cx="2010.2" cy="612.5" r="3.1"/><circle cx="2012" cy="623.5" r="3.1"/><circle cx="2012" cy="634.8" r="3.1"/><circle cx="2012" cy="645.7" r="3.1"/><circle cx="2012" cy="656.2" r="3.1"/><circle cx="2013.7" cy="665.7" r="3.1"/><circle cx="2015.2" cy="680" r="3.1"/><circle cx="2012" cy="691" r="3.1"/><circle cx="2010" cy="700.8" r="3.1"/><circle cx="2006.8" cy="711.8" r="3.1"/><circle cx="2003.3" cy="721.3" r="3.1"/><circle cx="2001.4" cy="732.6" r="3.1"/><circle cx="1998" cy="742.9" r="3.1"/><circle cx="1994.5" cy="754.4" r="3.1"/><circle cx="1990.8" cy="764.1" r="3.1"/><circle cx="1988.9" cy="774.6" r="3.1"/><circle cx="1986.1" cy="785" r="3.1"/><circle cx="1982.4" cy="796.2" r="3.1"/><circle cx="1980.5" cy="805.5" r="3.1"/><circle cx="1976.8" cy="816.7" r="3.1"/><circle cx="1971.8" cy="826.2" r="3.1"/><circle cx="1968" cy="835.7" r="3.1"/><circle cx="1963" cy="845.4" r="3.1"/><circle cx="1960.8" cy="853.6" r="3.1"/><circle cx="2054.7" cy="521" r="3.1"/><circle cx="2066.9" cy="525.3" r="3.1"/><circle cx="2075.6" cy="528.2" r="3.1"/><circle cx="2085.9" cy="532.3" r="3.1"/><circle cx="2096.3" cy="535.2" r="3.1"/><circle cx="2107.1" cy="539.3" r="3.1"/><circle cx="2116" cy="543.6" r="3.1"/><circle cx="2126" cy="548.1" r="3.1"/><circle cx="2137.8" cy="550.5" r="3.1"/><circle cx="2146.4" cy="554.8" r="3.1"/><circle cx="2157" cy="559.1" r="3.1"/><circle cx="2166" cy="561.7" r="3.1"/><circle cx="2177.7" cy="565.8" r="3.1"/><circle cx="2186.9" cy="569.9" r="3.1"/><circle cx="2199" cy="574.4" r="3.1"/><circle cx="2207.9" cy="579.2" r="3.1"/><circle cx="2218.2" cy="581.8" r="3.1"/><circle cx="2227.9" cy="585.8" r="3.1"/><circle cx="2238.1" cy="590.4" r="3.1"/><circle cx="2248.9" cy="594.3" r="3.1"/><circle cx="2257.9" cy="597.3" r="3.1"/></g><rect x="1666.2" y="86.2" width="125.8" height="44.5" fill="#fff"/><text x="1676.4" y="120.9" class="lb" textLength="105.5" lengthAdjust="spacing">(c)266d</text><text x="2325.2" y="124.3" class="nn">N</text><path fill="#000" fill-rule="evenodd" d="M2324.4 135.9L2356.6 242.9L2324.3 205.7L2292 243.5ZM2324.9 147.4L2347.4 226.1L2324.9 200.7Z"/><g class="sc"><path d="M1686.7 820.8V844.8H1860.4V820.8M1773.7 827.4V844.8" fill="none" stroke="#000" stroke-width="4.6"/><text x="1685.7" y="803.9" text-anchor="middle">0</text><text x="1771.7" y="803.9" text-anchor="middle">200</text><text x="1858" y="803.9" text-anchor="middle">400</text><text x="1897" y="803.9">m</text></g></g><rect x="1634.5" y="59.6" width="771.8" height="827.5" fill="none" stroke="#000" stroke-width="5.2" stroke-linejoin="round"/>
<g clip-path="url(#cpd)"><g filter="url(#cmd)"><g transform="translate(418.5 1374.1) rotate(2.7)"><rect x="-800" y="-900" width="1600" height="1800" fill="url(#gyd)"/><rect x="-800" y="-900" width="1600" height="1800" fill="url(#gxd)"/></g></g><polygon points="421.7,1180.5 467.6,1183.3 453.2,1495.5 407.3,1489.4" fill="none" stroke="#00000a" stroke-width="2.4" stroke-linejoin="miter"/><g fill="#ff0510"><circle cx="472.6" cy="969.7" r="3.1"/><circle cx="472.6" cy="981" r="3.1"/><circle cx="470.3" cy="992.2" r="3.1"/><circle cx="469.1" cy="1003.1" r="3.1"/><circle cx="466.9" cy="1013.8" r="3.1"/><circle cx="466.9" cy="1037.1" r="3.1"/><circle cx="465.7" cy="1046.9" r="3.1"/><circle cx="463.6" cy="1058.1" r="3.1"/><circle cx="462.2" cy="1069.3" r="3.1"/><circle cx="461.4" cy="1080.2" r="3.1"/><circle cx="461.4" cy="1092.3" r="3.1"/><circle cx="460.2" cy="1103.5" r="3.1"/><circle cx="460.2" cy="1114.4" r="3.1"/><circle cx="458.8" cy="1125.6" r="3.1"/><circle cx="456.5" cy="1136.8" r="3.1"/><circle cx="456.5" cy="1146.7" r="3.1"/><circle cx="455" cy="1157.5" r="3.1"/><circle cx="455" cy="1168.6" r="3.1"/><circle cx="454.5" cy="1179.4" r="3.1"/><circle cx="453.1" cy="1188.9" r="3.1"/><circle cx="453.1" cy="1199.8" r="3.1"/><circle cx="451.7" cy="1210.9" r="3.1"/><circle cx="451.5" cy="1222.1" r="3.1"/><circle cx="449.5" cy="1233.3" r="3.1"/><circle cx="448" cy="1244.2" r="3.1"/><circle cx="448" cy="1254.9" r="3.1"/><circle cx="447.5" cy="1265.5" r="3.1"/><circle cx="447.5" cy="1276.9" r="3.1"/><circle cx="446.4" cy="1288.3" r="3.1"/><circle cx="444.7" cy="1299.3" r="3.1"/><circle cx="444.7" cy="1310.6" r="3.1"/><circle cx="442.8" cy="1321.8" r="3.1"/><circle cx="184.5" cy="1217.8" r="3.1"/><circle cx="193.6" cy="1219.1" r="3.1"/><circle cx="205.2" cy="1222.1" r="3.1"/><circle cx="216" cy="1224.7" r="3.1"/><circle cx="219.3" cy="1247.1" r="3.1"/><circle cx="218.2" cy="1263.1" r="3.1"/><circle cx="226.4" cy="1276.9" r="3.1"/><circle cx="242.8" cy="1275.6" r="3.1"/><circle cx="254.4" cy="1278.2" r="3.1"/><circle cx="260.9" cy="1286.8" r="3.1"/><circle cx="264.6" cy="1296.3" r="3.1"/><circle cx="264.6" cy="1307.3" r="3.1"/><circle cx="263.9" cy="1317.7" r="3.1"/><circle cx="276.9" cy="1323.1" r="3.1"/><circle cx="283.3" cy="1331.3" r="3.1"/><circle cx="292.4" cy="1335.8" r="3.1"/><circle cx="302.8" cy="1340.3" r="3.1"/><circle cx="311.2" cy="1347.7" r="3.1"/><circle cx="318.5" cy="1354.2" r="3.1"/><circle cx="330.8" cy="1356.7" r="3.1"/><circle cx="345.9" cy="1355.4" r="3.1"/><circle cx="352.4" cy="1356.7" r="3.1"/><circle cx="362.7" cy="1362.6" r="3.1"/><circle cx="371.6" cy="1366.9" r="3.1"/><circle cx="381.9" cy="1371.2" r="3.1"/><circle cx="392.3" cy="1371.2" r="3.1"/><circle cx="404.6" cy="1371.2" r="3.1"/><circle cx="415.8" cy="1371.2" r="3.1"/><circle cx="425.1" cy="1373.6" r="3.1"/><circle cx="434.4" cy="1376.6" r="3.1"/><circle cx="442.8" cy="1384.8" r="3.1"/><circle cx="442.3" cy="1394.7" r="3.1"/><circle cx="440.8" cy="1405.5" r="3.1"/><circle cx="436.1" cy="1415.6" r="3.1"/><circle cx="434.6" cy="1427.1" r="3.1"/><circle cx="434.6" cy="1438.5" r="3.1"/><circle cx="432.8" cy="1449.7" r="3.1"/><circle cx="432.8" cy="1459.4" r="3.1"/><circle cx="434.6" cy="1470.4" r="3.1"/><circle cx="434.6" cy="1481.7" r="3.1"/><circle cx="434.6" cy="1492.6" r="3.1"/><circle cx="434.6" cy="1503.1" r="3.1"/><circle cx="436.3" cy="1512.6" r="3.1"/><circle cx="437.8" cy="1526.9" r="3.1"/><circle cx="434.6" cy="1537.9" r="3.1"/><circle cx="432.6" cy="1547.7" r="3.1"/><circle cx="429.4" cy="1558.7" r="3.1"/><circle cx="425.9" cy="1568.2" r="3.1"/><circle cx="424" cy="1579.5" r="3.1"/><circle cx="420.6" cy="1589.8" r="3.1"/><circle cx="417.1" cy="1601.3" r="3.1"/><circle cx="413.4" cy="1611" r="3.1"/><circle cx="411.5" cy="1621.5" r="3.1"/><circle cx="408.7" cy="1631.9" r="3.1"/><circle cx="405" cy="1643.1" r="3.1"/><circle cx="403.1" cy="1652.4" r="3.1"/><circle cx="399.4" cy="1663.6" r="3.1"/><circle cx="394.4" cy="1673.1" r="3.1"/><circle cx="390.6" cy="1682.6" r="3.1"/><circle cx="385.6" cy="1692.3" r="3.1"/><circle cx="383.4" cy="1700.5" r="3.1"/><circle cx="477.3" cy="1367.9" r="3.1"/><circle cx="489.5" cy="1372.2" r="3.1"/><circle cx="498.2" cy="1375.1" r="3.1"/><circle cx="508.5" cy="1379.2" r="3.1"/><circle cx="518.9" cy="1382.1" r="3.1"/><circle cx="529.7" cy="1386.2" r="3.1"/><circle cx="538.6" cy="1390.5" r="3.1"/><circle cx="548.6" cy="1395" r="3.1"/><circle cx="560.4" cy="1397.4" r="3.1"/><circle cx="569" cy="1401.7" r="3.1"/><circle cx="579.6" cy="1406" r="3.1"/><circle cx="588.6" cy="1408.6" r="3.1"/><circle cx="600.3" cy="1412.7" r="3.1"/><circle cx="609.5" cy="1416.8" r="3.1"/><circle cx="621.6" cy="1421.3" r="3.1"/><circle cx="630.5" cy="1426.1" r="3.1"/><circle cx="640.8" cy="1428.7" r="3.1"/><circle cx="650.5" cy="1432.7" r="3.1"/><circle cx="660.7" cy="1437.3" r="3.1"/><circle cx="671.5" cy="1441.2" r="3.1"/><circle cx="680.5" cy="1444.2" r="3.1"/></g><rect x="81.3" y="932.2" width="126.4" height="44.1" fill="#fff"/><text x="91.5" y="966.9" class="lb" textLength="107" lengthAdjust="spacing">(d)333d</text><text x="751" y="969.5" class="nn">N</text><path fill="#000" fill-rule="evenodd" d="M750.2 981.1L782.4 1088.1L750.1 1050.9L717.8 1088.7ZM750.7 992.6L773.2 1071.3L750.7 1045.9Z"/><g class="sc"><path d="M102 1666.8V1690.6H275.6V1666.8M189.9 1673.4V1690.6" fill="none" stroke="#000" stroke-width="4.6"/><text x="101" y="1649.2" text-anchor="middle">0</text><text x="187.9" y="1649.2" text-anchor="middle">200</text><text x="273.2" y="1649.2" text-anchor="middle">400</text><text x="312.2" y="1649.2">m</text></g></g><rect x="57.6" y="908.2" width="770.4" height="825.7" fill="none" stroke="#000" stroke-width="5.2" stroke-linejoin="round"/>
<g clip-path="url(#cpe)"><g filter="url(#cme)"><g transform="translate(1210.7 1344.5) rotate(2.7)"><rect x="-800" y="-900" width="1600" height="1800" fill="url(#gye)"/><rect x="-800" y="-900" width="1600" height="1800" fill="url(#gxe)"/></g></g><polygon points="1211.6,1180.7 1257.5,1183.5 1243.1,1495.7 1197.2,1489.6" fill="none" stroke="#00000a" stroke-width="2.4" stroke-linejoin="miter"/><g fill="#ff0510"><circle cx="1262.5" cy="969.9" r="3.1"/><circle cx="1262.5" cy="981.2" r="3.1"/><circle cx="1260.2" cy="992.4" r="3.1"/><circle cx="1259" cy="1003.3" r="3.1"/><circle cx="1256.8" cy="1014" r="3.1"/><circle cx="1256.8" cy="1037.3" r="3.1"/><circle cx="1255.6" cy="1047.1" r="3.1"/><circle cx="1253.5" cy="1058.3" r="3.1"/><circle cx="1252.1" cy="1069.5" r="3.1"/><circle cx="1251.3" cy="1080.4" r="3.1"/><circle cx="1251.3" cy="1092.5" r="3.1"/><circle cx="1250.1" cy="1103.7" r="3.1"/><circle cx="1250.1" cy="1114.6" r="3.1"/><circle cx="1248.7" cy="1125.8" r="3.1"/><circle cx="1246.4" cy="1137" r="3.1"/><circle cx="1246.4" cy="1146.9" r="3.1"/><circle cx="1244.9" cy="1157.7" r="3.1"/><circle cx="1244.9" cy="1168.8" r="3.1"/><circle cx="1244.4" cy="1179.6" r="3.1"/><circle cx="1243" cy="1189.1" r="3.1"/><circle cx="1243" cy="1200" r="3.1"/><circle cx="1241.6" cy="1211.1" r="3.1"/><circle cx="1241.4" cy="1222.3" r="3.1"/><circle cx="1239.4" cy="1233.5" r="3.1"/><circle cx="1237.9" cy="1244.4" r="3.1"/><circle cx="1237.9" cy="1255.1" r="3.1"/><circle cx="1237.4" cy="1265.7" r="3.1"/><circle cx="1237.4" cy="1277.1" r="3.1"/><circle cx="1236.3" cy="1288.5" r="3.1"/><circle cx="1234.6" cy="1299.5" r="3.1"/><circle cx="1234.6" cy="1310.8" r="3.1"/><circle cx="1232.7" cy="1322" r="3.1"/><circle cx="974.4" cy="1218" r="3.1"/><circle cx="983.5" cy="1219.3" r="3.1"/><circle cx="995.1" cy="1222.3" r="3.1"/><circle cx="1005.9" cy="1224.9" r="3.1"/><circle cx="1009.2" cy="1247.3" r="3.1"/><circle cx="1008.1" cy="1263.3" r="3.1"/><circle cx="1016.3" cy="1277.1" r="3.1"/><circle cx="1032.7" cy="1275.8" r="3.1"/><circle cx="1044.3" cy="1278.4" r="3.1"/><circle cx="1050.8" cy="1287" r="3.1"/><circle cx="1054.5" cy="1296.5" r="3.1"/><circle cx="1054.5" cy="1307.5" r="3.1"/><circle cx="1053.8" cy="1317.9" r="3.1"/><circle cx="1066.8" cy="1323.3" r="3.1"/><circle cx="1073.2" cy="1331.5" r="3.1"/><circle cx="1082.3" cy="1336" r="3.1"/><circle cx="1092.7" cy="1340.5" r="3.1"/><circle cx="1101.1" cy="1347.9" r="3.1"/><circle cx="1108.4" cy="1354.4" r="3.1"/><circle cx="1120.7" cy="1356.9" r="3.1"/><circle cx="1135.8" cy="1355.6" r="3.1"/><circle cx="1142.3" cy="1356.9" r="3.1"/><circle cx="1152.6" cy="1362.8" r="3.1"/><circle cx="1161.5" cy="1367.1" r="3.1"/><circle cx="1171.8" cy="1371.4" r="3.1"/><circle cx="1182.2" cy="1371.4" r="3.1"/><circle cx="1194.5" cy="1371.4" r="3.1"/><circle cx="1205.7" cy="1371.4" r="3.1"/><circle cx="1215" cy="1373.8" r="3.1"/><circle cx="1224.3" cy="1376.8" r="3.1"/><circle cx="1232.7" cy="1385" r="3.1"/><circle cx="1232.2" cy="1394.9" r="3.1"/><circle cx="1230.7" cy="1405.7" r="3.1"/><circle cx="1226" cy="1415.8" r="3.1"/><circle cx="1224.5" cy="1427.3" r="3.1"/><circle cx="1224.5" cy="1438.7" r="3.1"/><circle cx="1222.7" cy="1449.9" r="3.1"/><circle cx="1222.7" cy="1459.6" r="3.1"/><circle cx="1224.5" cy="1470.6" r="3.1"/><circle cx="1224.5" cy="1481.9" r="3.1"/><circle cx="1224.5" cy="1492.8" r="3.1"/><circle cx="1224.5" cy="1503.3" r="3.1"/><circle cx="1226.2" cy="1512.8" r="3.1"/><circle cx="1227.7" cy="1527.1" r="3.1"/><circle cx="1224.5" cy="1538.1" r="3.1"/><circle cx="1222.5" cy="1547.9" r="3.1"/><circle cx="1219.3" cy="1558.9" r="3.1"/><circle cx="1215.8" cy="1568.4" r="3.1"/><circle cx="1213.9" cy="1579.7" r="3.1"/><circle cx="1210.5" cy="1590" r="3.1"/><circle cx="1207" cy="1601.5" r="3.1"/><circle cx="1203.3" cy="1611.2" r="3.1"/><circle cx="1201.4" cy="1621.7" r="3.1"/><circle cx="1198.6" cy="1632.1" r="3.1"/><circle cx="1194.9" cy="1643.3" r="3.1"/><circle cx="1193" cy="1652.6" r="3.1"/><circle cx="1189.3" cy="1663.8" r="3.1"/><circle cx="1184.3" cy="1673.3" r="3.1"/><circle cx="1180.5" cy="1682.8" r="3.1"/><circle cx="1175.5" cy="1692.5" r="3.1"/><circle cx="1173.3" cy="1700.7" r="3.1"/><circle cx="1267.2" cy="1368.1" r="3.1"/><circle cx="1279.4" cy="1372.4" r="3.1"/><circle cx="1288.1" cy="1375.3" r="3.1"/><circle cx="1298.4" cy="1379.4" r="3.1"/><circle cx="1308.8" cy="1382.3" r="3.1"/><circle cx="1319.6" cy="1386.4" r="3.1"/><circle cx="1328.5" cy="1390.7" r="3.1"/><circle cx="1338.5" cy="1395.2" r="3.1"/><circle cx="1350.3" cy="1397.6" r="3.1"/><circle cx="1358.9" cy="1401.9" r="3.1"/><circle cx="1369.5" cy="1406.2" r="3.1"/><circle cx="1378.5" cy="1408.8" r="3.1"/><circle cx="1390.2" cy="1412.9" r="3.1"/><circle cx="1399.4" cy="1417" r="3.1"/><circle cx="1411.5" cy="1421.5" r="3.1"/><circle cx="1420.4" cy="1426.3" r="3.1"/><circle cx="1430.7" cy="1428.9" r="3.1"/><circle cx="1440.4" cy="1432.9" r="3.1"/><circle cx="1450.6" cy="1437.5" r="3.1"/><circle cx="1461.4" cy="1441.4" r="3.1"/><circle cx="1470.4" cy="1444.4" r="3.1"/></g><rect x="878" y="932.1" width="125.5" height="44.2" fill="#fff"/><text x="888.4" y="966.8" class="lb" textLength="105.5" lengthAdjust="spacing">(e)430d</text><text x="1539.1" y="969.8" class="nn">N</text><path fill="#000" fill-rule="evenodd" d="M1538.3 981.4L1570.5 1088.4L1538.2 1051.2L1505.9 1089ZM1538.8 992.9L1561.3 1071.6L1538.8 1046.2Z"/><g class="sc"><path d="M899.2 1666.9V1690.9H1072.9V1666.9M984.8 1673.5V1690.9" fill="none" stroke="#000" stroke-width="4.6"/><text x="898.2" y="1649.2" text-anchor="middle">0</text><text x="982.8" y="1649.2" text-anchor="middle">200</text><text x="1070.5" y="1649.2" text-anchor="middle">400</text><text x="1109.5" y="1649.2">m</text></g></g><rect x="847" y="908.2" width="770.7" height="825.4" fill="none" stroke="#000" stroke-width="5.2" stroke-linejoin="round"/>
<g clip-path="url(#cpf)"><g filter="url(#cmf)"><g transform="translate(1999.3 1336.5) rotate(2.7)"><rect x="-800" y="-900" width="1600" height="1800" fill="url(#gyf)"/><rect x="-800" y="-900" width="1600" height="1800" fill="url(#gxf)"/></g></g><polygon points="1999.7,1180.7 2045.6,1183.5 2031.2,1495.7 1985.3,1489.6" fill="none" stroke="#00000a" stroke-width="2.4" stroke-linejoin="miter"/><g fill="#ff0510"><circle cx="2050.1" cy="969.9" r="3.1"/><circle cx="2050.1" cy="981.2" r="3.1"/><circle cx="2047.8" cy="992.4" r="3.1"/><circle cx="2046.6" cy="1003.3" r="3.1"/><circle cx="2044.4" cy="1014" r="3.1"/><circle cx="2044.4" cy="1037.3" r="3.1"/><circle cx="2043.2" cy="1047.1" r="3.1"/><circle cx="2041.1" cy="1058.3" r="3.1"/><circle cx="2039.7" cy="1069.5" r="3.1"/><circle cx="2038.9" cy="1080.4" r="3.1"/><circle cx="2038.9" cy="1092.5" r="3.1"/><circle cx="2037.7" cy="1103.7" r="3.1"/><circle cx="2037.7" cy="1114.6" r="3.1"/><circle cx="2036.3" cy="1125.8" r="3.1"/><circle cx="2034" cy="1137" r="3.1"/><circle cx="2034" cy="1146.9" r="3.1"/><circle cx="2032.5" cy="1157.7" r="3.1"/><circle cx="2032.5" cy="1168.8" r="3.1"/><circle cx="2032" cy="1179.6" r="3.1"/><circle cx="2030.6" cy="1189.1" r="3.1"/><circle cx="2030.6" cy="1200" r="3.1"/><circle cx="2029.2" cy="1211.1" r="3.1"/><circle cx="2029" cy="1222.3" r="3.1"/><circle cx="2027" cy="1233.5" r="3.1"/><circle cx="2025.5" cy="1244.4" r="3.1"/><circle cx="2025.5" cy="1255.1" r="3.1"/><circle cx="2025" cy="1265.7" r="3.1"/><circle cx="2025" cy="1277.1" r="3.1"/><circle cx="2023.9" cy="1288.5" r="3.1"/><circle cx="2022.2" cy="1299.5" r="3.1"/><circle cx="2022.2" cy="1310.8" r="3.1"/><circle cx="2020.3" cy="1322" r="3.1"/><circle cx="1762" cy="1218" r="3.1"/><circle cx="1771.1" cy="1219.3" r="3.1"/><circle cx="1782.7" cy="1222.3" r="3.1"/><circle cx="1793.5" cy="1224.9" r="3.1"/><circle cx="1796.8" cy="1247.3" r="3.1"/><circle cx="1795.7" cy="1263.3" r="3.1"/><circle cx="1803.9" cy="1277.1" r="3.1"/><circle cx="1820.3" cy="1275.8" r="3.1"/><circle cx="1831.9" cy="1278.4" r="3.1"/><circle cx="1838.4" cy="1287" r="3.1"/><circle cx="1842.1" cy="1296.5" r="3.1"/><circle cx="1842.1" cy="1307.5" r="3.1"/><circle cx="1841.4" cy="1317.9" r="3.1"/><circle cx="1854.4" cy="1323.3" r="3.1"/><circle cx="1860.8" cy="1331.5" r="3.1"/><circle cx="1869.9" cy="1336" r="3.1"/><circle cx="1880.3" cy="1340.5" r="3.1"/><circle cx="1888.7" cy="1347.9" r="3.1"/><circle cx="1896" cy="1354.4" r="3.1"/><circle cx="1908.3" cy="1356.9" r="3.1"/><circle cx="1923.4" cy="1355.6" r="3.1"/><circle cx="1929.9" cy="1356.9" r="3.1"/><circle cx="1940.2" cy="1362.8" r="3.1"/><circle cx="1949.1" cy="1367.1" r="3.1"/><circle cx="1959.4" cy="1371.4" r="3.1"/><circle cx="1969.8" cy="1371.4" r="3.1"/><circle cx="1982.1" cy="1371.4" r="3.1"/><circle cx="1993.3" cy="1371.4" r="3.1"/><circle cx="2002.6" cy="1373.8" r="3.1"/><circle cx="2011.9" cy="1376.8" r="3.1"/><circle cx="2020.3" cy="1385" r="3.1"/><circle cx="2019.8" cy="1394.9" r="3.1"/><circle cx="2018.3" cy="1405.7" r="3.1"/><circle cx="2013.6" cy="1415.8" r="3.1"/><circle cx="2012.1" cy="1427.3" r="3.1"/><circle cx="2012.1" cy="1438.7" r="3.1"/><circle cx="2010.3" cy="1449.9" r="3.1"/><circle cx="2010.3" cy="1459.6" r="3.1"/><circle cx="2012.1" cy="1470.6" r="3.1"/><circle cx="2012.1" cy="1481.9" r="3.1"/><circle cx="2012.1" cy="1492.8" r="3.1"/><circle cx="2012.1" cy="1503.3" r="3.1"/><circle cx="2013.8" cy="1512.8" r="3.1"/><circle cx="2015.3" cy="1527.1" r="3.1"/><circle cx="2012.1" cy="1538.1" r="3.1"/><circle cx="2010.1" cy="1547.9" r="3.1"/><circle cx="2006.9" cy="1558.9" r="3.1"/><circle cx="2003.4" cy="1568.4" r="3.1"/><circle cx="2001.5" cy="1579.7" r="3.1"/><circle cx="1998.1" cy="1590" r="3.1"/><circle cx="1994.6" cy="1601.5" r="3.1"/><circle cx="1990.9" cy="1611.2" r="3.1"/><circle cx="1989" cy="1621.7" r="3.1"/><circle cx="1986.2" cy="1632.1" r="3.1"/><circle cx="1982.5" cy="1643.3" r="3.1"/><circle cx="1980.6" cy="1652.6" r="3.1"/><circle cx="1976.9" cy="1663.8" r="3.1"/><circle cx="1971.9" cy="1673.3" r="3.1"/><circle cx="1968.1" cy="1682.8" r="3.1"/><circle cx="1963.1" cy="1692.5" r="3.1"/><circle cx="1960.9" cy="1700.7" r="3.1"/><circle cx="2054.8" cy="1368.1" r="3.1"/><circle cx="2067" cy="1372.4" r="3.1"/><circle cx="2075.7" cy="1375.3" r="3.1"/><circle cx="2086" cy="1379.4" r="3.1"/><circle cx="2096.4" cy="1382.3" r="3.1"/><circle cx="2107.2" cy="1386.4" r="3.1"/><circle cx="2116.1" cy="1390.7" r="3.1"/><circle cx="2126.1" cy="1395.2" r="3.1"/><circle cx="2137.9" cy="1397.6" r="3.1"/><circle cx="2146.5" cy="1401.9" r="3.1"/><circle cx="2157.1" cy="1406.2" r="3.1"/><circle cx="2166.1" cy="1408.8" r="3.1"/><circle cx="2177.8" cy="1412.9" r="3.1"/><circle cx="2187" cy="1417" r="3.1"/><circle cx="2199.1" cy="1421.5" r="3.1"/><circle cx="2208" cy="1426.3" r="3.1"/><circle cx="2218.3" cy="1428.9" r="3.1"/><circle cx="2228" cy="1432.9" r="3.1"/><circle cx="2238.2" cy="1437.5" r="3.1"/><circle cx="2249" cy="1441.4" r="3.1"/><circle cx="2258" cy="1444.4" r="3.1"/></g><rect x="1667.8" y="932" width="121" height="44.2" fill="#fff"/><text x="1679.6" y="966.7" class="lb" textLength="102" lengthAdjust="spacing">(f)517d</text><text x="2325.2" y="969.5" class="nn">N</text><path fill="#000" fill-rule="evenodd" d="M2324.4 981.1L2356.6 1088.1L2324.3 1050.9L2292 1088.7ZM2324.9 992.6L2347.4 1071.3L2324.9 1045.9Z"/><g class="sc"><path d="M1686 1666.9V1690.9H1861.1V1666.9M1773.8 1673.5V1690.9" fill="none" stroke="#000" stroke-width="4.6"/><text x="1685" y="1649.2" text-anchor="middle">0</text><text x="1771.8" y="1649.2" text-anchor="middle">200</text><text x="1858.7" y="1649.2" text-anchor="middle">400</text><text x="1897.7" y="1649.2">m</text></g></g><rect x="1634.6" y="908.1" width="771.7" height="825.9" fill="none" stroke="#000" stroke-width="5.2" stroke-linejoin="round"/>
<g clip-path="url(#cpg)"><g filter="url(#cmg)"><g transform="translate(424.6 2174.3) rotate(2.7)"><rect x="-800" y="-900" width="1600" height="1800" fill="url(#gyg)"/><rect x="-800" y="-900" width="1600" height="1800" fill="url(#gxg)"/></g></g><polygon points="421.8,2032.2 467.7,2035 453.3,2347.2 407.4,2341.1" fill="none" stroke="#00000a" stroke-width="2.4" stroke-linejoin="miter"/><g fill="#ff0510"><circle cx="472.7" cy="1821.4" r="3.1"/><circle cx="472.7" cy="1832.7" r="3.1"/><circle cx="470.4" cy="1843.9" r="3.1"/><circle cx="469.2" cy="1854.8" r="3.1"/><circle cx="467" cy="1865.5" r="3.1"/><circle cx="467" cy="1888.8" r="3.1"/><circle cx="465.8" cy="1898.6" r="3.1"/><circle cx="463.7" cy="1909.8" r="3.1"/><circle cx="462.3" cy="1921" r="3.1"/><circle cx="461.5" cy="1931.9" r="3.1"/><circle cx="461.5" cy="1944" r="3.1"/><circle cx="460.3" cy="1955.2" r="3.1"/><circle cx="460.3" cy="1966.1" r="3.1"/><circle cx="458.9" cy="1977.3" r="3.1"/><circle cx="456.6" cy="1988.5" r="3.1"/><circle cx="456.6" cy="1998.4" r="3.1"/><circle cx="455.1" cy="2009.2" r="3.1"/><circle cx="455.1" cy="2020.3" r="3.1"/><circle cx="454.6" cy="2031.1" r="3.1"/><circle cx="453.2" cy="2040.6" r="3.1"/><circle cx="453.2" cy="2051.5" r="3.1"/><circle cx="451.8" cy="2062.6" r="3.1"/><circle cx="451.6" cy="2073.8" r="3.1"/><circle cx="449.6" cy="2085" r="3.1"/><circle cx="448.1" cy="2095.9" r="3.1"/><circle cx="448.1" cy="2106.6" r="3.1"/><circle cx="447.6" cy="2117.2" r="3.1"/><circle cx="447.6" cy="2128.6" r="3.1"/><circle cx="446.5" cy="2140" r="3.1"/><circle cx="444.8" cy="2151" r="3.1"/><circle cx="444.8" cy="2162.3" r="3.1"/><circle cx="442.9" cy="2173.5" r="3.1"/><circle cx="184.6" cy="2069.5" r="3.1"/><circle cx="193.7" cy="2070.8" r="3.1"/><circle cx="205.3" cy="2073.8" r="3.1"/><circle cx="216.1" cy="2076.4" r="3.1"/><circle cx="219.4" cy="2098.8" r="3.1"/><circle cx="218.3" cy="2114.8" r="3.1"/><circle cx="226.5" cy="2128.6" r="3.1"/><circle cx="242.9" cy="2127.3" r="3.1"/><circle cx="254.5" cy="2129.9" r="3.1"/><circle cx="261" cy="2138.5" r="3.1"/><circle cx="264.7" cy="2148" r="3.1"/><circle cx="264.7" cy="2159" r="3.1"/><circle cx="264" cy="2169.4" r="3.1"/><circle cx="277" cy="2174.8" r="3.1"/><circle cx="283.4" cy="2183" r="3.1"/><circle cx="292.5" cy="2187.5" r="3.1"/><circle cx="302.9" cy="2192" r="3.1"/><circle cx="311.3" cy="2199.4" r="3.1"/><circle cx="318.6" cy="2205.9" r="3.1"/><circle cx="330.9" cy="2208.4" r="3.1"/><circle cx="346" cy="2207.1" r="3.1"/><circle cx="352.5" cy="2208.4" r="3.1"/><circle cx="362.8" cy="2214.3" r="3.1"/><circle cx="371.7" cy="2218.6" r="3.1"/><circle cx="382" cy="2222.9" r="3.1"/><circle cx="392.4" cy="2222.9" r="3.1"/><circle cx="404.7" cy="2222.9" r="3.1"/><circle cx="415.9" cy="2222.9" r="3.1"/><circle cx="425.2" cy="2225.3" r="3.1"/><circle cx="434.5" cy="2228.3" r="3.1"/><circle cx="442.9" cy="2236.5" r="3.1"/><circle cx="442.4" cy="2246.4" r="3.1"/><circle cx="440.9" cy="2257.2" r="3.1"/><circle cx="436.2" cy="2267.3" r="3.1"/><circle cx="434.7" cy="2278.8" r="3.1"/><circle cx="434.7" cy="2290.2" r="3.1"/><circle cx="432.9" cy="2301.4" r="3.1"/><circle cx="432.9" cy="2311.1" r="3.1"/><circle cx="434.7" cy="2322.1" r="3.1"/><circle cx="434.7" cy="2333.4" r="3.1"/><circle cx="434.7" cy="2344.3" r="3.1"/><circle cx="434.7" cy="2354.8" r="3.1"/><circle cx="436.4" cy="2364.3" r="3.1"/><circle cx="437.9" cy="2378.6" r="3.1"/><circle cx="434.7" cy="2389.6" r="3.1"/><circle cx="432.7" cy="2399.4" r="3.1"/><circle cx="429.5" cy="2410.4" r="3.1"/><circle cx="426" cy="2419.9" r="3.1"/><circle cx="424.1" cy="2431.2" r="3.1"/><circle cx="420.7" cy="2441.5" r="3.1"/><circle cx="417.2" cy="2453" r="3.1"/><circle cx="413.5" cy="2462.7" r="3.1"/><circle cx="411.6" cy="2473.2" r="3.1"/><circle cx="408.8" cy="2483.6" r="3.1"/><circle cx="405.1" cy="2494.8" r="3.1"/><circle cx="403.2" cy="2504.1" r="3.1"/><circle cx="399.5" cy="2515.3" r="3.1"/><circle cx="394.5" cy="2524.8" r="3.1"/><circle cx="390.7" cy="2534.3" r="3.1"/><circle cx="385.7" cy="2544" r="3.1"/><circle cx="383.5" cy="2552.2" r="3.1"/><circle cx="477.4" cy="2219.6" r="3.1"/><circle cx="489.6" cy="2223.9" r="3.1"/><circle cx="498.3" cy="2226.8" r="3.1"/><circle cx="508.6" cy="2230.9" r="3.1"/><circle cx="519" cy="2233.8" r="3.1"/><circle cx="529.8" cy="2237.9" r="3.1"/><circle cx="538.7" cy="2242.2" r="3.1"/><circle cx="548.7" cy="2246.7" r="3.1"/><circle cx="560.5" cy="2249.1" r="3.1"/><circle cx="569.1" cy="2253.4" r="3.1"/><circle cx="579.7" cy="2257.7" r="3.1"/><circle cx="588.7" cy="2260.3" r="3.1"/><circle cx="600.4" cy="2264.4" r="3.1"/><circle cx="609.6" cy="2268.5" r="3.1"/><circle cx="621.7" cy="2273" r="3.1"/><circle cx="630.6" cy="2277.8" r="3.1"/><circle cx="640.9" cy="2280.4" r="3.1"/><circle cx="650.6" cy="2284.4" r="3.1"/><circle cx="660.8" cy="2289" r="3.1"/><circle cx="671.6" cy="2292.9" r="3.1"/><circle cx="680.6" cy="2295.9" r="3.1"/></g><rect x="80.9" y="1777.5" width="126.8" height="44" fill="#fff"/><text x="91.5" y="1812.2" class="lb" textLength="107" lengthAdjust="spacing">(g)657d</text><text x="751" y="1815.2" class="nn">N</text><path fill="#000" fill-rule="evenodd" d="M750.2 1826.8L782.4 1933.8L750.1 1896.6L717.8 1934.4ZM750.7 1838.3L773.2 1917L750.7 1891.6Z"/><g class="sc"><path d="M102 2526.4V2551.7H276.3V2526.4M189.6 2533V2551.7" fill="none" stroke="#000" stroke-width="4.6"/><text x="101" y="2507.7" text-anchor="middle">0</text><text x="187.6" y="2507.7" text-anchor="middle">200</text><text x="273.9" y="2507.7" text-anchor="middle">400</text><text x="312.9" y="2507.7">m</text></g></g><rect x="57.8" y="1758" width="770.2" height="826.7" fill="none" stroke="#000" stroke-width="5.2" stroke-linejoin="round"/>
<g stroke="#000" fill="none"><path d="M177.8 40L177.8 58" stroke-width="4.3"/><path d="M516.2 40L516.2 58" stroke-width="3.2"/><path d="M967.5 40L967.5 58" stroke-width="4.3"/><path d="M1305.6 40L1305.6 58" stroke-width="3.4"/><path d="M1755.5 40L1755.5 58" stroke-width="3.5"/><path d="M2093.4 40L2093.4 58" stroke-width="3"/><path d="M36.5 388.9L56 388.9" stroke-width="4.4"/><path d="M36.5 790.6L56 790.6" stroke-width="4"/><path d="M2408 393.4L2426.8 393.4" stroke-width="3.6"/><path d="M2408 797.3L2426.8 797.3" stroke-width="3.6"/><path d="M829.6 394.1L845.6 394.1" stroke-width="4.1"/><path d="M829.6 797.3L845.6 797.3" stroke-width="4.1"/><path d="M1619.3 388.2L1632.9 388.2" stroke-width="2.7"/><path d="M1619.3 791.5L1632.9 791.5" stroke-width="3.6"/><path d="M172.3 888.7L172.3 906.6" stroke-width="4"/><path d="M508.7 888.7L508.7 906.6" stroke-width="3.4"/><path d="M962.5 888.7L962.5 906.6" stroke-width="4"/><path d="M1299 888.7L1299 906.6" stroke-width="3.4"/><path d="M1750 888.7L1750 906.6" stroke-width="3.2"/><path d="M2087 888.7L2087 906.6" stroke-width="3.2"/><path d="M36.5 1235L56 1235" stroke-width="4.3"/><path d="M36.5 1638.6L56 1638.6" stroke-width="4.3"/><path d="M2408 1241L2426.8 1241" stroke-width="3.6"/><path d="M2408 1644.5L2426.8 1644.5" stroke-width="4.3"/><path d="M829.6 1240.9L845.4 1240.9" stroke-width="4.1"/><path d="M829.6 1644.1L845.4 1644.1" stroke-width="4.1"/><path d="M1619.3 1235L1633 1235" stroke-width="2.7"/><path d="M1619.3 1638.3L1633 1638.3" stroke-width="3.6"/><path d="M962 1735.5L962 1756.6" stroke-width="4"/><path d="M1298.6 1735.5L1298.6 1756.6" stroke-width="3.6"/><path d="M1750.4 1735.5L1750.4 1756.6" stroke-width="3.6"/><path d="M2087 1735.5L2087 1756.6" stroke-width="3.6"/><path d="M172 1735.5L172 1756.4" stroke-width="4.6"/><path d="M508.7 1735.5L508.7 1756.4" stroke-width="3.6"/><path d="M36.5 2087.2L56.2 2087.2" stroke-width="4.3"/><path d="M36.5 2488.3L56.2 2488.3" stroke-width="4.3"/><path d="M829.6 2092L848.6 2092" stroke-width="3.8"/><path d="M829.6 2494.2L848.6 2494.2" stroke-width="3.8"/><path d="M171.9 2586.3L171.9 2605.7" stroke-width="4.3"/><path d="M508.7 2586.3L508.7 2605.7" stroke-width="3.8"/></g>
<text class="ax" transform="translate(177.2 38.9)" y="0"><tspan x="-95.2" y="0">116</tspan><tspan x="-40.1" y="-7.2" font-size="26">°</tspan><tspan x="-22.2" y="0"> </tspan><tspan x="-10.2" y="0">11</tspan><tspan x="21.8" y="0">’</tspan><tspan x="33.8" y="0"> </tspan><tspan x="43.2" y="0">0</tspan><tspan x="61.8" y="0">″</tspan><tspan x="75.8" y="0" textLength="17" lengthAdjust="spacingAndGlyphs">E</tspan></text>
<text class="ax" transform="translate(516.2 38.9)" y="0"><tspan x="-104.2" y="0">116</tspan><tspan x="-48.8" y="-7.2" font-size="26">°</tspan><tspan x="-31.2" y="0"> </tspan><tspan x="-19.2" y="0">11</tspan><tspan x="13.8" y="0">’</tspan><tspan x="24.8" y="0"> </tspan><tspan x="33.9" y="0">30</tspan><tspan x="68.2" y="0">″</tspan><tspan x="84.5" y="0" textLength="17" lengthAdjust="spacingAndGlyphs">E</tspan></text>
<text class="ax" transform="translate(967.3 38.9)" y="0"><tspan x="-95.2" y="0">116</tspan><tspan x="-40.1" y="-7.2" font-size="26">°</tspan><tspan x="-22.2" y="0"> </tspan><tspan x="-10.2" y="0">11</tspan><tspan x="21.8" y="0">’</tspan><tspan x="33.8" y="0"> </tspan><tspan x="43.2" y="0">0</tspan><tspan x="61.8" y="0">″</tspan><tspan x="75.8" y="0" textLength="17" lengthAdjust="spacingAndGlyphs">E</tspan></text>
<text class="ax" transform="translate(1305.6 38.9)" y="0"><tspan x="-104.2" y="0">116</tspan><tspan x="-48.8" y="-7.2" font-size="26">°</tspan><tspan x="-31.2" y="0"> </tspan><tspan x="-19.2" y="0">11</tspan><tspan x="13.8" y="0">’</tspan><tspan x="24.8" y="0"> </tspan><tspan x="33.9" y="0">30</tspan><tspan x="68.2" y="0">″</tspan><tspan x="84.5" y="0" textLength="17" lengthAdjust="spacingAndGlyphs">E</tspan></text>
<text class="ax" transform="translate(1755.5 38.9)" y="0"><tspan x="-95.2" y="0">116</tspan><tspan x="-40.1" y="-7.2" font-size="26">°</tspan><tspan x="-22.2" y="0"> </tspan><tspan x="-10.2" y="0">11</tspan><tspan x="21.8" y="0">’</tspan><tspan x="33.8" y="0"> </tspan><tspan x="43.2" y="0">0</tspan><tspan x="61.8" y="0">″</tspan><tspan x="75.8" y="0" textLength="17" lengthAdjust="spacingAndGlyphs">E</tspan></text>
<text class="ax" transform="translate(2094 38.9)" y="0"><tspan x="-104.2" y="0">116</tspan><tspan x="-48.8" y="-7.2" font-size="26">°</tspan><tspan x="-31.2" y="0"> </tspan><tspan x="-19.2" y="0">11</tspan><tspan x="13.8" y="0">’</tspan><tspan x="24.8" y="0"> </tspan><tspan x="33.9" y="0">30</tspan><tspan x="68.2" y="0">″</tspan><tspan x="84.5" y="0" textLength="17" lengthAdjust="spacingAndGlyphs">E</tspan></text>
<text class="ax" transform="translate(35.5 387.8) rotate(-90)" y="0"><tspan x="-93.8" y="0">33</tspan><tspan x="-58.2" y="-7.2" font-size="26">°</tspan><tspan x="-40.5" y="0"> </tspan><tspan x="-26.6" y="0">32</tspan><tspan x="4" y="0">’</tspan><tspan x="16.5" y="0"> </tspan><tspan x="24.7" y="0">30</tspan><tspan x="58.5" y="0">″</tspan><tspan x="74" y="0" textLength="18.6" lengthAdjust="spacingAndGlyphs">N</tspan></text>
<text class="ax" transform="translate(35.5 789.5) rotate(-90)" y="0"><tspan x="-85.4" y="0">33</tspan><tspan x="-49.8" y="-7.2" font-size="26">°</tspan><tspan x="-32.1" y="0"> </tspan><tspan x="-18.2" y="0">32</tspan><tspan x="12.4" y="0">’</tspan><tspan x="24.9" y="0"> </tspan><tspan x="33.1" y="0">0</tspan><tspan x="51.6" y="0">″</tspan><tspan x="65.9" y="0" textLength="18.6" lengthAdjust="spacingAndGlyphs">N</tspan></text>
<text class="ax" transform="translate(2452.8 393.4) rotate(-90)" y="0"><tspan x="-93.8" y="0">33</tspan><tspan x="-58.2" y="-7.2" font-size="26">°</tspan><tspan x="-40.5" y="0"> </tspan><tspan x="-26.6" y="0">32</tspan><tspan x="4" y="0">’</tspan><tspan x="16.5" y="0"> </tspan><tspan x="24.7" y="0">30</tspan><tspan x="58.5" y="0">″</tspan><tspan x="74" y="0" textLength="18.6" lengthAdjust="spacingAndGlyphs">N</tspan></text>
<text class="ax" transform="translate(2452.8 797) rotate(-90)" y="0"><tspan x="-85.4" y="0">33</tspan><tspan x="-49.8" y="-7.2" font-size="26">°</tspan><tspan x="-32.1" y="0"> </tspan><tspan x="-18.2" y="0">32</tspan><tspan x="12.4" y="0">’</tspan><tspan x="24.9" y="0"> </tspan><tspan x="33.1" y="0">0</tspan><tspan x="51.6" y="0">″</tspan><tspan x="65.9" y="0" textLength="18.6" lengthAdjust="spacingAndGlyphs">N</tspan></text>
<text class="ax" transform="translate(35.5 1235.2) rotate(-90)" y="0"><tspan x="-93.8" y="0">33</tspan><tspan x="-58.2" y="-7.2" font-size="26">°</tspan><tspan x="-40.5" y="0"> </tspan><tspan x="-26.6" y="0">32</tspan><tspan x="4" y="0">’</tspan><tspan x="16.5" y="0"> </tspan><tspan x="24.7" y="0">30</tspan><tspan x="58.5" y="0">″</tspan><tspan x="74" y="0" textLength="18.6" lengthAdjust="spacingAndGlyphs">N</tspan></text>
<text class="ax" transform="translate(35.5 1638.6) rotate(-90)" y="0"><tspan x="-85.4" y="0">33</tspan><tspan x="-49.8" y="-7.2" font-size="26">°</tspan><tspan x="-32.1" y="0"> </tspan><tspan x="-18.2" y="0">32</tspan><tspan x="12.4" y="0">’</tspan><tspan x="24.9" y="0"> </tspan><tspan x="33.1" y="0">0</tspan><tspan x="51.6" y="0">″</tspan><tspan x="65.9" y="0" textLength="18.6" lengthAdjust="spacingAndGlyphs">N</tspan></text>
<text class="ax" transform="translate(2452.2 1241) rotate(-90)" y="0"><tspan x="-93.8" y="0">33</tspan><tspan x="-58.2" y="-7.2" font-size="26">°</tspan><tspan x="-40.5" y="0"> </tspan><tspan x="-26.6" y="0">32</tspan><tspan x="4" y="0">’</tspan><tspan x="16.5" y="0"> </tspan><tspan x="24.7" y="0">30</tspan><tspan x="58.5" y="0">″</tspan><tspan x="74" y="0" textLength="18.6" lengthAdjust="spacingAndGlyphs">N</tspan></text>
<text class="ax" transform="translate(2452.2 1643.4) rotate(-90)" y="0"><tspan x="-85.4" y="0">33</tspan><tspan x="-49.8" y="-7.2" font-size="26">°</tspan><tspan x="-32.1" y="0"> </tspan><tspan x="-18.2" y="0">32</tspan><tspan x="12.4" y="0">’</tspan><tspan x="24.9" y="0"> </tspan><tspan x="33.1" y="0">0</tspan><tspan x="51.6" y="0">″</tspan><tspan x="65.9" y="0" textLength="18.6" lengthAdjust="spacingAndGlyphs">N</tspan></text>
<text class="ax" transform="translate(961.7 1779.3)" y="0"><tspan x="-95.2" y="0">116</tspan><tspan x="-40.1" y="-7.2" font-size="26">°</tspan><tspan x="-22.2" y="0"> </tspan><tspan x="-10.2" y="0">11</tspan><tspan x="21.8" y="0">’</tspan><tspan x="33.8" y="0"> </tspan><tspan x="43.2" y="0">0</tspan><tspan x="61.8" y="0">″</tspan><tspan x="75.8" y="0" textLength="17" lengthAdjust="spacingAndGlyphs">E</tspan></text>
<text class="ax" transform="translate(1298.4 1779.3)" y="0"><tspan x="-104.2" y="0">116</tspan><tspan x="-48.8" y="-7.2" font-size="26">°</tspan><tspan x="-31.2" y="0"> </tspan><tspan x="-19.2" y="0">11</tspan><tspan x="13.8" y="0">’</tspan><tspan x="24.8" y="0"> </tspan><tspan x="33.9" y="0">30</tspan><tspan x="68.2" y="0">″</tspan><tspan x="84.5" y="0" textLength="17" lengthAdjust="spacingAndGlyphs">E</tspan></text>
<text class="ax" transform="translate(1750.4 1779.3)" y="0"><tspan x="-95.2" y="0">116</tspan><tspan x="-40.1" y="-7.2" font-size="26">°</tspan><tspan x="-22.2" y="0"> </tspan><tspan x="-10.2" y="0">11</tspan><tspan x="21.8" y="0">’</tspan><tspan x="33.8" y="0"> </tspan><tspan x="43.2" y="0">0</tspan><tspan x="61.8" y="0">″</tspan><tspan x="75.8" y="0" textLength="17" lengthAdjust="spacingAndGlyphs">E</tspan></text>
<text class="ax" transform="translate(2086.9 1779.3)" y="0"><tspan x="-104.2" y="0">116</tspan><tspan x="-48.8" y="-7.2" font-size="26">°</tspan><tspan x="-31.2" y="0"> </tspan><tspan x="-19.2" y="0">11</tspan><tspan x="13.8" y="0">’</tspan><tspan x="24.8" y="0"> </tspan><tspan x="33.9" y="0">30</tspan><tspan x="68.2" y="0">″</tspan><tspan x="84.5" y="0" textLength="17" lengthAdjust="spacingAndGlyphs">E</tspan></text>
<text class="ax" transform="translate(35.5 2087.2) rotate(-90)" y="0"><tspan x="-93.8" y="0">33</tspan><tspan x="-58.2" y="-7.2" font-size="26">°</tspan><tspan x="-40.5" y="0"> </tspan><tspan x="-26.6" y="0">32</tspan><tspan x="4" y="0">’</tspan><tspan x="16.5" y="0"> </tspan><tspan x="24.7" y="0">30</tspan><tspan x="58.5" y="0">″</tspan><tspan x="74" y="0" textLength="18.6" lengthAdjust="spacingAndGlyphs">N</tspan></text>
<text class="ax" transform="translate(35.5 2488.5) rotate(-90)" y="0"><tspan x="-85.4" y="0">33</tspan><tspan x="-49.8" y="-7.2" font-size="26">°</tspan><tspan x="-32.1" y="0"> </tspan><tspan x="-18.2" y="0">32</tspan><tspan x="12.4" y="0">’</tspan><tspan x="24.9" y="0"> </tspan><tspan x="33.1" y="0">0</tspan><tspan x="51.6" y="0">″</tspan><tspan x="65.9" y="0" textLength="18.6" lengthAdjust="spacingAndGlyphs">N</tspan></text>
<text class="ax" transform="translate(873.8 2090.4) rotate(-90)" y="0"><tspan x="-93.8" y="0">33</tspan><tspan x="-58.2" y="-7.2" font-size="26">°</tspan><tspan x="-40.5" y="0"> </tspan><tspan x="-26.6" y="0">32</tspan><tspan x="4" y="0">’</tspan><tspan x="16.5" y="0"> </tspan><tspan x="24.7" y="0">30</tspan><tspan x="58.5" y="0">″</tspan><tspan x="74" y="0" textLength="18.6" lengthAdjust="spacingAndGlyphs">N</tspan></text>
<text class="ax" transform="translate(873.8 2493.8) rotate(-90)" y="0"><tspan x="-85.4" y="0">33</tspan><tspan x="-49.8" y="-7.2" font-size="26">°</tspan><tspan x="-32.1" y="0"> </tspan><tspan x="-18.2" y="0">32</tspan><tspan x="12.4" y="0">’</tspan><tspan x="24.9" y="0"> </tspan><tspan x="33.1" y="0">0</tspan><tspan x="51.6" y="0">″</tspan><tspan x="65.9" y="0" textLength="18.6" lengthAdjust="spacingAndGlyphs">N</tspan></text>
<text class="ax" transform="translate(172.3 2630.8)" y="0"><tspan x="-95.2" y="0">116</tspan><tspan x="-40.1" y="-7.2" font-size="26">°</tspan><tspan x="-22.2" y="0"> </tspan><tspan x="-10.2" y="0">11</tspan><tspan x="21.8" y="0">’</tspan><tspan x="33.8" y="0"> </tspan><tspan x="43.2" y="0">0</tspan><tspan x="61.8" y="0">″</tspan><tspan x="75.8" y="0" textLength="17" lengthAdjust="spacingAndGlyphs">E</tspan></text>
<text class="ax" transform="translate(509 2630.8)" y="0"><tspan x="-104.2" y="0">116</tspan><tspan x="-48.8" y="-7.2" font-size="26">°</tspan><tspan x="-31.2" y="0"> </tspan><tspan x="-19.2" y="0">11</tspan><tspan x="13.8" y="0">’</tspan><tspan x="24.8" y="0"> </tspan><tspan x="33.9" y="0">30</tspan><tspan x="68.2" y="0">″</tspan><tspan x="84.5" y="0" textLength="17" lengthAdjust="spacingAndGlyphs">E</tspan></text>
<circle cx="1053.9" cy="1933.5" r="9" fill="#f00"/><text class="lg" x="1129" y="1946.3" style="font-size:40px;word-spacing:1.5px">Leveling point</text><rect x="1004.5" y="1972.1" width="98.5" height="48.1" fill="#fff" stroke="#000" stroke-width="2.4"/><text class="lg" x="1129" y="2009.6">Workface</text><text class="lg" x="1006.6" y="2147.6">W (mm)</text><rect x="1012.8" y="2176.2" width="821.7" height="59.6" fill="url(#cb)"/><path d="M1013.6 2235.8V2241.8M1285.8 2235.8V2241.8M1560 2235.8V2241.8M1833.9 2235.8V2241.8" stroke="#000" stroke-width="1.3" fill="none"/><text class="lg" x="1004.8" y="2280.2">0</text><text class="lg" x="1256" y="2280.2">−500</text><text class="lg" x="1518" y="2280.2">−1000</text><text class="lg" x="1790" y="2280.2">−1558</text>
</svg>
</body></html>
